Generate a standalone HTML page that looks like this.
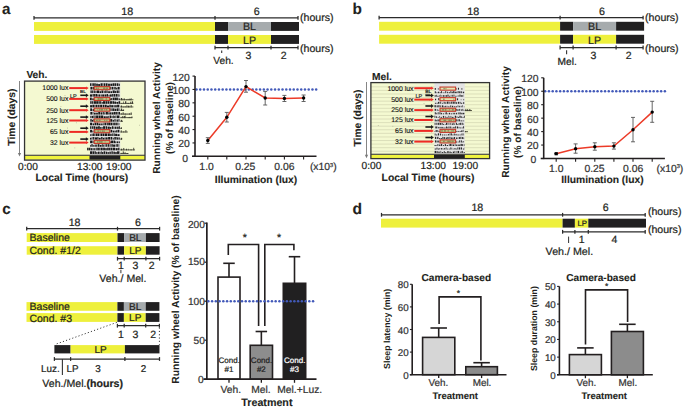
<!DOCTYPE html>
<html><head><meta charset="utf-8"><style>
html,body{margin:0;padding:0;background:#fff;}
svg{display:block;font-family:"Liberation Sans", sans-serif;text-rendering:geometricPrecision;}
</style></head><body>
<svg width="685" height="409" viewBox="0 0 685 409">
<rect width="685" height="409" fill="#fff"/>
<text x="2.00" y="13.50" font-size="15.2" font-weight="bold" text-anchor="start" fill="#231f20"  stroke="#231f20" stroke-width="0.11">a</text>
<text x="352.60" y="13.80" font-size="15.4" font-weight="bold" text-anchor="start" fill="#231f20"  stroke="#231f20" stroke-width="0.11">b</text>
<text x="2.20" y="213.70" font-size="15.2" font-weight="bold" text-anchor="start" fill="#231f20"  stroke="#231f20" stroke-width="0.11">c</text>
<text x="352.50" y="214.10" font-size="15.6" font-weight="bold" text-anchor="start" fill="#231f20"  stroke="#231f20" stroke-width="0.11">d</text>
<line x1="34.00" y1="17.90" x2="298.00" y2="17.90" stroke="#2b2b2b" stroke-width="1.25" />
<line x1="34.00" y1="16.00" x2="34.00" y2="19.80" stroke="#2b2b2b" stroke-width="1.25" />
<line x1="215.00" y1="16.00" x2="215.00" y2="19.80" stroke="#2b2b2b" stroke-width="1.25" />
<line x1="298.00" y1="16.00" x2="298.00" y2="19.80" stroke="#2b2b2b" stroke-width="1.25" />
<text x="127.20" y="15.13" font-size="10.7" font-weight="normal" text-anchor="middle" fill="#231f20"  stroke="#231f20" stroke-width="0.22">18</text>
<text x="256.80" y="15.13" font-size="10.7" font-weight="normal" text-anchor="middle" fill="#231f20"  stroke="#231f20" stroke-width="0.22">6</text>
<text x="300.00" y="20.69" font-size="10.6" font-weight="normal" text-anchor="start" fill="#231f20"  stroke="#231f20" stroke-width="0.22">(hours)</text>
<rect x="34.00" y="22.00" width="181.00" height="8.90" fill="#eef03c" />
<rect x="215.00" y="22.00" width="13.00" height="8.90" fill="#212021" />
<rect x="228.00" y="22.00" width="43.00" height="8.90" fill="#a6abad" />
<rect x="271.00" y="22.00" width="28.00" height="8.90" fill="#212021" />
<text x="249.50" y="30.39" font-size="10.6" font-weight="normal" text-anchor="middle" fill="#231f20"  stroke="#231f20" stroke-width="0.22">BL</text>
<rect x="34.00" y="35.00" width="181.00" height="8.90" fill="#eef03c" />
<rect x="215.00" y="35.00" width="13.00" height="8.90" fill="#212021" />
<rect x="228.00" y="35.00" width="43.00" height="8.90" fill="#eef03c" />
<rect x="271.00" y="35.00" width="28.00" height="8.90" fill="#212021" />
<text x="249.50" y="44.39" font-size="10.6" font-weight="normal" text-anchor="middle" fill="#231f20"  stroke="#231f20" stroke-width="0.22">LP</text>
<line x1="215.00" y1="47.70" x2="298.00" y2="47.70" stroke="#2b2b2b" stroke-width="1.25" />
<line x1="215.00" y1="45.80" x2="215.00" y2="49.60" stroke="#2b2b2b" stroke-width="1.25" />
<line x1="228.00" y1="45.80" x2="228.00" y2="49.60" stroke="#2b2b2b" stroke-width="1.25" />
<line x1="271.00" y1="45.80" x2="271.00" y2="49.60" stroke="#2b2b2b" stroke-width="1.25" />
<line x1="298.00" y1="45.80" x2="298.00" y2="49.60" stroke="#2b2b2b" stroke-width="1.25" />
<text x="300.00" y="52.39" font-size="10.6" font-weight="normal" text-anchor="start" fill="#231f20"  stroke="#231f20" stroke-width="0.22">(hours)</text>
<text x="248.30" y="58.86" font-size="10.5" font-weight="normal" text-anchor="middle" fill="#231f20"  stroke="#231f20" stroke-width="0.22">3</text>
<text x="283.60" y="58.86" font-size="10.5" font-weight="normal" text-anchor="middle" fill="#231f20"  stroke="#231f20" stroke-width="0.22">2</text>
<line x1="221.70" y1="50.40" x2="221.70" y2="53.00" stroke="#333" stroke-width="1.1" />
<text x="223.50" y="64.45" font-size="10.2" font-weight="normal" text-anchor="middle" fill="#231f20"  stroke="#231f20" stroke-width="0.22">Veh.</text>
<line x1="379.10" y1="17.70" x2="643.10" y2="17.70" stroke="#2b2b2b" stroke-width="1.25" />
<line x1="379.10" y1="15.80" x2="379.10" y2="19.60" stroke="#2b2b2b" stroke-width="1.25" />
<line x1="560.10" y1="15.80" x2="560.10" y2="19.60" stroke="#2b2b2b" stroke-width="1.25" />
<line x1="643.10" y1="15.80" x2="643.10" y2="19.60" stroke="#2b2b2b" stroke-width="1.25" />
<text x="473.30" y="14.93" font-size="10.7" font-weight="normal" text-anchor="middle" fill="#231f20"  stroke="#231f20" stroke-width="0.22">18</text>
<text x="601.90" y="14.93" font-size="10.7" font-weight="normal" text-anchor="middle" fill="#231f20"  stroke="#231f20" stroke-width="0.22">6</text>
<text x="645.10" y="21.19" font-size="10.6" font-weight="normal" text-anchor="start" fill="#231f20"  stroke="#231f20" stroke-width="0.22">(hours)</text>
<rect x="379.10" y="21.80" width="181.00" height="8.90" fill="#eef03c" />
<rect x="560.10" y="21.80" width="13.00" height="8.90" fill="#212021" />
<rect x="573.10" y="21.80" width="43.00" height="8.90" fill="#a6abad" />
<rect x="616.10" y="21.80" width="28.00" height="8.90" fill="#212021" />
<text x="594.60" y="30.19" font-size="10.6" font-weight="normal" text-anchor="middle" fill="#231f20"  stroke="#231f20" stroke-width="0.22">BL</text>
<rect x="379.10" y="34.80" width="181.00" height="8.90" fill="#eef03c" />
<rect x="560.10" y="34.80" width="13.00" height="8.90" fill="#212021" />
<rect x="573.10" y="34.80" width="43.00" height="8.90" fill="#eef03c" />
<rect x="616.10" y="34.80" width="28.00" height="8.90" fill="#212021" />
<text x="594.60" y="44.19" font-size="10.6" font-weight="normal" text-anchor="middle" fill="#231f20"  stroke="#231f20" stroke-width="0.22">LP</text>
<line x1="560.10" y1="47.50" x2="643.10" y2="47.50" stroke="#2b2b2b" stroke-width="1.25" />
<line x1="560.10" y1="45.60" x2="560.10" y2="49.40" stroke="#2b2b2b" stroke-width="1.25" />
<line x1="573.10" y1="45.60" x2="573.10" y2="49.40" stroke="#2b2b2b" stroke-width="1.25" />
<line x1="616.10" y1="45.60" x2="616.10" y2="49.40" stroke="#2b2b2b" stroke-width="1.25" />
<line x1="643.10" y1="45.60" x2="643.10" y2="49.40" stroke="#2b2b2b" stroke-width="1.25" />
<text x="645.10" y="52.19" font-size="10.6" font-weight="normal" text-anchor="start" fill="#231f20"  stroke="#231f20" stroke-width="0.22">(hours)</text>
<text x="593.40" y="58.66" font-size="10.5" font-weight="normal" text-anchor="middle" fill="#231f20"  stroke="#231f20" stroke-width="0.22">3</text>
<text x="628.70" y="58.66" font-size="10.5" font-weight="normal" text-anchor="middle" fill="#231f20"  stroke="#231f20" stroke-width="0.22">2</text>
<line x1="566.60" y1="50.20" x2="566.60" y2="54.20" stroke="#333" stroke-width="1.1" />
<text x="567.20" y="64.85" font-size="10.2" font-weight="normal" text-anchor="middle" fill="#231f20"  stroke="#231f20" stroke-width="0.22">Mel.</text>
<rect x="24.55" y="81.10" width="120.45" height="79.00" fill="#f4f9d1" />
<rect x="89.90" y="81.10" width="30.40" height="74.70" fill="#e2e2e2" />
<rect x="90.04" y="83.30" width="1.25" height="2.60" fill="#161616" />
<rect x="91.76" y="83.30" width="0.80" height="2.60" fill="#161616" />
<rect x="92.81" y="83.30" width="1.09" height="2.60" fill="#161616" />
<rect x="94.23" y="83.30" width="1.51" height="2.60" fill="#161616" />
<rect x="96.19" y="83.69" width="1.66" height="2.21" fill="#161616" />
<rect x="98.15" y="84.08" width="2.00" height="1.82" fill="#161616" />
<rect x="100.58" y="83.30" width="1.71" height="2.60" fill="#161616" />
<rect x="102.56" y="83.30" width="0.76" height="2.60" fill="#161616" />
<rect x="103.85" y="83.30" width="1.41" height="2.60" fill="#161616" />
<rect x="105.76" y="83.30" width="1.77" height="2.60" fill="#161616" />
<rect x="108.10" y="83.69" width="1.79" height="2.21" fill="#161616" />
<rect x="110.35" y="83.69" width="2.02" height="2.21" fill="#161616" />
<rect x="112.65" y="83.30" width="1.44" height="2.60" fill="#161616" />
<rect x="114.43" y="83.30" width="1.87" height="2.60" fill="#161616" />
<rect x="116.85" y="83.30" width="1.46" height="2.60" fill="#161616" />
<rect x="118.70" y="83.69" width="1.06" height="2.21" fill="#161616" />
<rect x="90.44" y="86.88" width="2.09" height="2.60" fill="#161616" />
<rect x="93.09" y="86.88" width="1.71" height="2.60" fill="#161616" />
<rect x="95.10" y="86.88" width="2.15" height="2.60" fill="#161616" />
<rect x="97.81" y="86.88" width="0.86" height="2.60" fill="#161616" />
<rect x="99.15" y="86.88" width="1.10" height="2.60" fill="#161616" />
<rect x="100.54" y="87.66" width="1.98" height="1.82" fill="#161616" />
<rect x="103.12" y="87.27" width="1.22" height="2.21" fill="#161616" />
<rect x="104.61" y="86.88" width="0.73" height="2.60" fill="#161616" />
<rect x="105.74" y="86.88" width="2.01" height="2.60" fill="#161616" />
<rect x="108.01" y="86.88" width="1.84" height="2.60" fill="#161616" />
<rect x="110.24" y="86.88" width="1.20" height="2.60" fill="#161616" />
<rect x="111.99" y="86.88" width="1.46" height="2.60" fill="#161616" />
<rect x="114.05" y="86.88" width="0.71" height="2.60" fill="#161616" />
<rect x="115.05" y="86.88" width="0.75" height="2.60" fill="#161616" />
<rect x="116.12" y="87.66" width="1.14" height="1.82" fill="#161616" />
<rect x="117.60" y="86.88" width="2.02" height="2.60" fill="#161616" />
<rect x="90.48" y="90.46" width="1.27" height="2.60" fill="#161616" />
<rect x="92.15" y="90.46" width="1.28" height="2.60" fill="#161616" />
<rect x="93.99" y="90.46" width="0.85" height="2.60" fill="#161616" />
<rect x="95.43" y="90.85" width="1.11" height="2.21" fill="#161616" />
<rect x="97.01" y="90.46" width="2.10" height="2.60" fill="#161616" />
<rect x="99.52" y="91.24" width="1.48" height="1.82" fill="#161616" />
<rect x="101.44" y="90.46" width="1.88" height="2.60" fill="#161616" />
<rect x="103.92" y="90.85" width="0.73" height="2.21" fill="#161616" />
<rect x="105.11" y="90.46" width="0.79" height="2.60" fill="#161616" />
<rect x="106.37" y="90.46" width="1.23" height="2.60" fill="#161616" />
<rect x="108.17" y="91.24" width="1.76" height="1.82" fill="#161616" />
<rect x="110.44" y="91.24" width="1.58" height="1.82" fill="#161616" />
<rect x="112.61" y="90.46" width="2.14" height="2.60" fill="#161616" />
<rect x="115.09" y="90.85" width="1.15" height="2.21" fill="#161616" />
<rect x="116.70" y="90.46" width="1.25" height="2.60" fill="#161616" />
<rect x="118.31" y="90.46" width="1.10" height="2.60" fill="#161616" />
<rect x="89.96" y="94.43" width="2.16" height="2.21" fill="#161616" />
<rect x="92.61" y="94.04" width="1.17" height="2.60" fill="#161616" />
<rect x="94.10" y="94.04" width="1.06" height="2.60" fill="#161616" />
<rect x="95.48" y="94.04" width="1.67" height="2.60" fill="#161616" />
<rect x="97.43" y="94.43" width="1.18" height="2.21" fill="#161616" />
<rect x="98.98" y="94.43" width="1.36" height="2.21" fill="#161616" />
<rect x="100.89" y="94.43" width="0.82" height="2.21" fill="#161616" />
<rect x="102.22" y="94.43" width="2.03" height="2.21" fill="#161616" />
<rect x="104.66" y="94.43" width="1.88" height="2.21" fill="#161616" />
<rect x="106.80" y="94.04" width="1.17" height="2.60" fill="#161616" />
<rect x="108.51" y="94.82" width="0.98" height="1.82" fill="#161616" />
<rect x="109.84" y="94.43" width="1.91" height="2.21" fill="#161616" />
<rect x="112.12" y="94.04" width="1.33" height="2.60" fill="#161616" />
<rect x="113.88" y="94.04" width="1.40" height="2.60" fill="#161616" />
<rect x="115.75" y="94.04" width="1.33" height="2.60" fill="#161616" />
<rect x="117.47" y="94.04" width="0.93" height="2.60" fill="#161616" />
<rect x="118.66" y="94.43" width="0.83" height="2.21" fill="#161616" />
<rect x="89.92" y="97.62" width="1.83" height="2.60" fill="#161616" />
<rect x="92.26" y="98.40" width="1.52" height="1.82" fill="#161616" />
<rect x="94.34" y="98.40" width="1.99" height="1.82" fill="#161616" />
<rect x="96.92" y="97.62" width="1.92" height="2.60" fill="#161616" />
<rect x="99.10" y="97.62" width="2.09" height="2.60" fill="#161616" />
<rect x="101.75" y="98.40" width="1.57" height="1.82" fill="#161616" />
<rect x="103.57" y="98.40" width="0.96" height="1.82" fill="#161616" />
<rect x="104.88" y="97.62" width="1.49" height="2.60" fill="#161616" />
<rect x="106.76" y="97.62" width="0.87" height="2.60" fill="#161616" />
<rect x="107.93" y="97.62" width="1.42" height="2.60" fill="#161616" />
<rect x="109.86" y="98.40" width="1.03" height="1.82" fill="#161616" />
<rect x="111.19" y="98.01" width="0.96" height="2.21" fill="#161616" />
<rect x="112.67" y="97.62" width="1.94" height="2.60" fill="#161616" />
<rect x="114.86" y="97.62" width="1.99" height="2.60" fill="#161616" />
<rect x="117.12" y="97.62" width="1.07" height="2.60" fill="#161616" />
<rect x="118.66" y="98.40" width="1.18" height="1.82" fill="#161616" />
<rect x="120.30" y="99.32" width="13.10" height="0.90" fill="#4a4a38" />
<rect x="120.80" y="98.02" width="1.27" height="2.20" fill="#3a3a30" />
<rect x="122.63" y="98.55" width="0.54" height="1.67" fill="#3a3a30" />
<rect x="123.72" y="98.49" width="1.14" height="1.73" fill="#3a3a30" />
<rect x="126.00" y="99.29" width="0.64" height="0.93" fill="#3a3a30" />
<rect x="127.64" y="98.87" width="0.85" height="1.35" fill="#3a3a30" />
<rect x="129.34" y="98.65" width="1.39" height="1.57" fill="#3a3a30" />
<rect x="131.39" y="98.12" width="0.50" height="2.10" fill="#3a3a30" />
<rect x="90.24" y="101.20" width="1.39" height="2.60" fill="#161616" />
<rect x="92.11" y="101.20" width="1.27" height="2.60" fill="#161616" />
<rect x="93.91" y="101.20" width="2.03" height="2.60" fill="#161616" />
<rect x="96.21" y="101.20" width="1.84" height="2.60" fill="#161616" />
<rect x="98.41" y="101.20" width="1.39" height="2.60" fill="#161616" />
<rect x="100.14" y="101.20" width="1.11" height="2.60" fill="#161616" />
<rect x="101.70" y="101.98" width="1.04" height="1.82" fill="#161616" />
<rect x="103.03" y="101.20" width="2.10" height="2.60" fill="#161616" />
<rect x="105.51" y="101.20" width="1.89" height="2.60" fill="#161616" />
<rect x="107.74" y="101.20" width="1.74" height="2.60" fill="#161616" />
<rect x="110.06" y="101.20" width="1.89" height="2.60" fill="#161616" />
<rect x="112.43" y="101.20" width="1.55" height="2.60" fill="#161616" />
<rect x="114.26" y="101.59" width="1.77" height="2.21" fill="#161616" />
<rect x="116.45" y="101.98" width="1.86" height="1.82" fill="#161616" />
<rect x="118.58" y="101.20" width="1.55" height="2.60" fill="#161616" />
<rect x="120.30" y="102.90" width="13.10" height="0.90" fill="#4a4a38" />
<rect x="120.80" y="102.96" width="0.66" height="0.84" fill="#3a3a30" />
<rect x="123.06" y="101.48" width="0.61" height="2.32" fill="#3a3a30" />
<rect x="125.04" y="101.29" width="1.25" height="2.51" fill="#3a3a30" />
<rect x="127.55" y="102.93" width="1.22" height="0.87" fill="#3a3a30" />
<rect x="130.26" y="101.71" width="0.96" height="2.09" fill="#3a3a30" />
<rect x="131.86" y="101.32" width="1.17" height="2.48" fill="#3a3a30" />
<rect x="90.09" y="105.17" width="1.94" height="2.21" fill="#161616" />
<rect x="92.37" y="104.78" width="1.67" height="2.60" fill="#161616" />
<rect x="94.45" y="104.78" width="1.08" height="2.60" fill="#161616" />
<rect x="95.99" y="104.78" width="1.53" height="2.60" fill="#161616" />
<rect x="98.11" y="104.78" width="1.45" height="2.60" fill="#161616" />
<rect x="100.15" y="104.78" width="1.97" height="2.60" fill="#161616" />
<rect x="102.71" y="104.78" width="1.74" height="2.60" fill="#161616" />
<rect x="104.96" y="104.78" width="1.73" height="2.60" fill="#161616" />
<rect x="106.99" y="105.56" width="2.05" height="1.82" fill="#161616" />
<rect x="109.34" y="104.78" width="1.45" height="2.60" fill="#161616" />
<rect x="111.20" y="105.17" width="2.13" height="2.21" fill="#161616" />
<rect x="113.79" y="105.17" width="0.90" height="2.21" fill="#161616" />
<rect x="115.20" y="105.17" width="1.58" height="2.21" fill="#161616" />
<rect x="117.14" y="104.78" width="1.98" height="2.60" fill="#161616" />
<rect x="119.56" y="104.78" width="0.18" height="2.60" fill="#161616" />
<rect x="120.30" y="106.48" width="13.10" height="0.90" fill="#4a4a38" />
<rect x="120.80" y="105.53" width="1.27" height="1.85" fill="#3a3a30" />
<rect x="122.92" y="106.54" width="0.70" height="0.84" fill="#3a3a30" />
<rect x="124.73" y="106.27" width="0.84" height="1.11" fill="#3a3a30" />
<rect x="126.55" y="105.19" width="0.79" height="2.19" fill="#3a3a30" />
<rect x="128.02" y="105.72" width="1.39" height="1.66" fill="#3a3a30" />
<rect x="130.70" y="105.08" width="0.92" height="2.30" fill="#3a3a30" />
<rect x="90.23" y="108.36" width="1.78" height="2.60" fill="#161616" />
<rect x="92.57" y="109.14" width="1.87" height="1.82" fill="#161616" />
<rect x="95.00" y="108.75" width="1.40" height="2.21" fill="#161616" />
<rect x="96.73" y="109.14" width="1.67" height="1.82" fill="#161616" />
<rect x="98.92" y="108.75" width="2.14" height="2.21" fill="#161616" />
<rect x="101.61" y="108.75" width="2.04" height="2.21" fill="#161616" />
<rect x="104.17" y="109.14" width="0.98" height="1.82" fill="#161616" />
<rect x="105.65" y="109.14" width="2.05" height="1.82" fill="#161616" />
<rect x="108.03" y="109.14" width="1.17" height="1.82" fill="#161616" />
<rect x="109.60" y="108.36" width="0.88" height="2.60" fill="#161616" />
<rect x="110.82" y="108.36" width="0.75" height="2.60" fill="#161616" />
<rect x="111.98" y="108.36" width="0.71" height="2.60" fill="#161616" />
<rect x="113.06" y="108.36" width="1.27" height="2.60" fill="#161616" />
<rect x="114.61" y="108.75" width="1.81" height="2.21" fill="#161616" />
<rect x="116.84" y="108.36" width="1.52" height="2.60" fill="#161616" />
<rect x="118.65" y="108.36" width="0.81" height="2.60" fill="#161616" />
<rect x="120.30" y="110.06" width="3.70" height="0.90" fill="#4a4a38" />
<rect x="120.80" y="108.52" width="1.30" height="2.44" fill="#3a3a30" />
<rect x="122.72" y="109.49" width="1.35" height="1.47" fill="#3a3a30" />
<rect x="90.35" y="111.94" width="1.71" height="2.60" fill="#161616" />
<rect x="92.55" y="111.94" width="0.86" height="2.60" fill="#161616" />
<rect x="93.99" y="112.72" width="1.71" height="1.82" fill="#161616" />
<rect x="96.14" y="112.72" width="1.70" height="1.82" fill="#161616" />
<rect x="98.26" y="111.94" width="1.78" height="2.60" fill="#161616" />
<rect x="100.53" y="112.33" width="1.81" height="2.21" fill="#161616" />
<rect x="102.82" y="111.94" width="0.97" height="2.60" fill="#161616" />
<rect x="104.35" y="112.33" width="0.88" height="2.21" fill="#161616" />
<rect x="105.81" y="111.94" width="2.08" height="2.60" fill="#161616" />
<rect x="108.37" y="112.33" width="1.33" height="2.21" fill="#161616" />
<rect x="110.05" y="112.33" width="1.39" height="2.21" fill="#161616" />
<rect x="111.80" y="112.33" width="1.76" height="2.21" fill="#161616" />
<rect x="113.84" y="111.94" width="1.83" height="2.60" fill="#161616" />
<rect x="116.11" y="111.94" width="1.24" height="2.60" fill="#161616" />
<rect x="117.70" y="111.94" width="0.78" height="2.60" fill="#161616" />
<rect x="118.77" y="111.94" width="1.23" height="2.60" fill="#161616" />
<rect x="120.30" y="113.64" width="11.70" height="0.90" fill="#4a4a38" />
<rect x="120.80" y="113.14" width="0.82" height="1.40" fill="#3a3a30" />
<rect x="122.64" y="112.35" width="0.99" height="2.19" fill="#3a3a30" />
<rect x="124.59" y="113.54" width="1.26" height="1.00" fill="#3a3a30" />
<rect x="126.70" y="113.54" width="0.59" height="1.00" fill="#3a3a30" />
<rect x="128.81" y="113.41" width="1.15" height="1.13" fill="#3a3a30" />
<rect x="130.71" y="112.40" width="0.87" height="2.14" fill="#3a3a30" />
<rect x="90.35" y="115.91" width="0.92" height="2.21" fill="#161616" />
<rect x="91.66" y="115.91" width="1.52" height="2.21" fill="#161616" />
<rect x="93.49" y="115.52" width="1.00" height="2.60" fill="#161616" />
<rect x="94.83" y="115.52" width="0.75" height="2.60" fill="#161616" />
<rect x="96.10" y="115.52" width="2.12" height="2.60" fill="#161616" />
<rect x="98.61" y="115.52" width="2.06" height="2.60" fill="#161616" />
<rect x="101.03" y="115.52" width="2.17" height="2.60" fill="#161616" />
<rect x="103.68" y="116.30" width="2.04" height="1.82" fill="#161616" />
<rect x="106.21" y="116.30" width="1.60" height="1.82" fill="#161616" />
<rect x="108.32" y="115.91" width="0.86" height="2.21" fill="#161616" />
<rect x="109.69" y="115.52" width="1.44" height="2.60" fill="#161616" />
<rect x="111.56" y="115.91" width="1.00" height="2.21" fill="#161616" />
<rect x="113.09" y="115.52" width="0.76" height="2.60" fill="#161616" />
<rect x="114.27" y="115.91" width="0.87" height="2.21" fill="#161616" />
<rect x="115.48" y="115.52" width="0.90" height="2.60" fill="#161616" />
<rect x="116.91" y="115.52" width="2.09" height="2.60" fill="#161616" />
<rect x="119.26" y="115.52" width="0.45" height="2.60" fill="#161616" />
<rect x="120.30" y="117.22" width="11.70" height="0.90" fill="#4a4a38" />
<rect x="120.80" y="116.71" width="0.52" height="1.41" fill="#3a3a30" />
<rect x="122.24" y="116.07" width="0.81" height="2.05" fill="#3a3a30" />
<rect x="123.66" y="115.92" width="1.26" height="2.20" fill="#3a3a30" />
<rect x="125.46" y="115.53" width="0.57" height="2.59" fill="#3a3a30" />
<rect x="127.83" y="117.21" width="0.68" height="0.91" fill="#3a3a30" />
<rect x="129.27" y="116.92" width="1.13" height="1.20" fill="#3a3a30" />
<rect x="131.31" y="116.58" width="1.21" height="1.54" fill="#3a3a30" />
<rect x="90.32" y="119.10" width="1.41" height="2.60" fill="#161616" />
<rect x="92.01" y="119.88" width="1.01" height="1.82" fill="#161616" />
<rect x="93.44" y="119.10" width="1.40" height="2.60" fill="#161616" />
<rect x="95.35" y="119.88" width="1.36" height="1.82" fill="#161616" />
<rect x="97.12" y="119.10" width="1.78" height="2.60" fill="#161616" />
<rect x="99.28" y="119.10" width="1.37" height="2.60" fill="#161616" />
<rect x="101.03" y="119.49" width="1.04" height="2.21" fill="#161616" />
<rect x="102.31" y="119.10" width="1.09" height="2.60" fill="#161616" />
<rect x="103.78" y="119.88" width="1.50" height="1.82" fill="#161616" />
<rect x="105.59" y="119.49" width="0.96" height="2.21" fill="#161616" />
<rect x="106.93" y="119.10" width="1.66" height="2.60" fill="#161616" />
<rect x="108.89" y="119.88" width="0.95" height="1.82" fill="#161616" />
<rect x="110.26" y="119.10" width="1.96" height="2.60" fill="#161616" />
<rect x="112.61" y="119.88" width="1.31" height="1.82" fill="#161616" />
<rect x="114.42" y="119.10" width="1.06" height="2.60" fill="#161616" />
<rect x="115.75" y="119.49" width="0.74" height="2.21" fill="#161616" />
<rect x="117.07" y="119.49" width="1.06" height="2.21" fill="#161616" />
<rect x="118.52" y="119.10" width="0.95" height="2.60" fill="#161616" />
<rect x="120.30" y="120.80" width="2.70" height="0.90" fill="#4a4a38" />
<rect x="120.80" y="119.83" width="1.32" height="1.87" fill="#3a3a30" />
<rect x="90.07" y="122.68" width="2.11" height="2.60" fill="#161616" />
<rect x="92.71" y="123.46" width="1.43" height="1.82" fill="#161616" />
<rect x="94.59" y="122.68" width="1.92" height="2.60" fill="#161616" />
<rect x="96.99" y="122.68" width="1.18" height="2.60" fill="#161616" />
<rect x="98.43" y="123.46" width="2.15" height="1.82" fill="#161616" />
<rect x="101.04" y="123.46" width="0.86" height="1.82" fill="#161616" />
<rect x="102.39" y="123.46" width="0.96" height="1.82" fill="#161616" />
<rect x="103.61" y="122.68" width="0.98" height="2.60" fill="#161616" />
<rect x="105.02" y="122.68" width="1.00" height="2.60" fill="#161616" />
<rect x="106.61" y="122.68" width="1.21" height="2.60" fill="#161616" />
<rect x="108.24" y="122.68" width="2.11" height="2.60" fill="#161616" />
<rect x="110.61" y="122.68" width="1.83" height="2.60" fill="#161616" />
<rect x="112.91" y="122.68" width="0.83" height="2.60" fill="#161616" />
<rect x="114.09" y="122.68" width="0.87" height="2.60" fill="#161616" />
<rect x="115.35" y="122.68" width="1.50" height="2.60" fill="#161616" />
<rect x="117.38" y="122.68" width="0.96" height="2.60" fill="#161616" />
<rect x="118.85" y="123.07" width="0.47" height="2.21" fill="#161616" />
<rect x="90.12" y="126.26" width="1.04" height="2.60" fill="#161616" />
<rect x="91.68" y="126.26" width="1.22" height="2.60" fill="#161616" />
<rect x="93.44" y="126.26" width="1.78" height="2.60" fill="#161616" />
<rect x="95.68" y="126.65" width="2.12" height="2.21" fill="#161616" />
<rect x="98.07" y="126.26" width="1.77" height="2.60" fill="#161616" />
<rect x="100.10" y="127.04" width="0.84" height="1.82" fill="#161616" />
<rect x="101.43" y="127.04" width="1.18" height="1.82" fill="#161616" />
<rect x="103.07" y="126.26" width="2.02" height="2.60" fill="#161616" />
<rect x="105.64" y="126.26" width="1.40" height="2.60" fill="#161616" />
<rect x="107.59" y="126.65" width="2.20" height="2.21" fill="#161616" />
<rect x="110.04" y="127.04" width="1.30" height="1.82" fill="#161616" />
<rect x="111.92" y="126.26" width="1.21" height="2.60" fill="#161616" />
<rect x="113.49" y="126.65" width="0.82" height="2.21" fill="#161616" />
<rect x="114.79" y="126.65" width="1.73" height="2.21" fill="#161616" />
<rect x="117.11" y="126.65" width="1.58" height="2.21" fill="#161616" />
<rect x="118.94" y="126.26" width="0.94" height="2.60" fill="#161616" />
<rect x="120.30" y="127.96" width="1.70" height="0.90" fill="#4a4a38" />
<rect x="120.80" y="127.15" width="0.96" height="1.71" fill="#3a3a30" />
<rect x="90.09" y="129.84" width="1.87" height="2.60" fill="#161616" />
<rect x="92.38" y="130.62" width="0.82" height="1.82" fill="#161616" />
<rect x="93.74" y="130.62" width="1.60" height="1.82" fill="#161616" />
<rect x="95.88" y="130.62" width="1.00" height="1.82" fill="#161616" />
<rect x="97.45" y="129.84" width="0.86" height="2.60" fill="#161616" />
<rect x="98.70" y="129.84" width="0.86" height="2.60" fill="#161616" />
<rect x="99.98" y="130.62" width="1.30" height="1.82" fill="#161616" />
<rect x="101.77" y="129.84" width="1.14" height="2.60" fill="#161616" />
<rect x="103.49" y="129.84" width="1.92" height="2.60" fill="#161616" />
<rect x="105.73" y="130.62" width="0.71" height="1.82" fill="#161616" />
<rect x="106.80" y="130.62" width="1.21" height="1.82" fill="#161616" />
<rect x="108.33" y="129.84" width="2.09" height="2.60" fill="#161616" />
<rect x="110.90" y="129.84" width="1.33" height="2.60" fill="#161616" />
<rect x="112.71" y="130.62" width="1.48" height="1.82" fill="#161616" />
<rect x="114.53" y="130.62" width="1.20" height="1.82" fill="#161616" />
<rect x="116.13" y="130.23" width="1.08" height="2.21" fill="#161616" />
<rect x="117.57" y="129.84" width="1.79" height="2.60" fill="#161616" />
<rect x="120.30" y="131.54" width="7.50" height="0.90" fill="#4a4a38" />
<rect x="120.80" y="130.36" width="0.92" height="2.08" fill="#3a3a30" />
<rect x="123.33" y="131.30" width="0.83" height="1.14" fill="#3a3a30" />
<rect x="125.47" y="130.03" width="0.87" height="2.41" fill="#3a3a30" />
<rect x="90.18" y="134.20" width="0.75" height="1.82" fill="#161616" />
<rect x="91.52" y="133.81" width="0.98" height="2.21" fill="#161616" />
<rect x="92.78" y="133.42" width="1.14" height="2.60" fill="#161616" />
<rect x="94.35" y="133.42" width="0.76" height="2.60" fill="#161616" />
<rect x="95.62" y="133.42" width="1.44" height="2.60" fill="#161616" />
<rect x="97.33" y="133.42" width="1.81" height="2.60" fill="#161616" />
<rect x="99.65" y="133.42" width="0.91" height="2.60" fill="#161616" />
<rect x="100.97" y="133.42" width="1.37" height="2.60" fill="#161616" />
<rect x="102.66" y="133.42" width="1.84" height="2.60" fill="#161616" />
<rect x="105.00" y="133.42" width="2.17" height="2.60" fill="#161616" />
<rect x="107.72" y="133.42" width="2.11" height="2.60" fill="#161616" />
<rect x="110.24" y="133.81" width="1.41" height="2.21" fill="#161616" />
<rect x="112.25" y="133.42" width="1.24" height="2.60" fill="#161616" />
<rect x="114.04" y="133.42" width="0.74" height="2.60" fill="#161616" />
<rect x="115.16" y="133.81" width="1.91" height="2.21" fill="#161616" />
<rect x="117.43" y="134.20" width="2.10" height="1.82" fill="#161616" />
<rect x="89.98" y="137.78" width="1.50" height="1.82" fill="#161616" />
<rect x="91.79" y="137.00" width="0.70" height="2.60" fill="#161616" />
<rect x="93.09" y="137.00" width="1.23" height="2.60" fill="#161616" />
<rect x="94.91" y="137.39" width="2.17" height="2.21" fill="#161616" />
<rect x="97.34" y="137.00" width="1.06" height="2.60" fill="#161616" />
<rect x="98.74" y="137.78" width="1.95" height="1.82" fill="#161616" />
<rect x="101.16" y="137.00" width="1.38" height="2.60" fill="#161616" />
<rect x="102.88" y="137.78" width="1.33" height="1.82" fill="#161616" />
<rect x="104.54" y="137.39" width="0.74" height="2.21" fill="#161616" />
<rect x="105.55" y="137.39" width="2.07" height="2.21" fill="#161616" />
<rect x="108.15" y="137.00" width="2.13" height="2.60" fill="#161616" />
<rect x="110.79" y="137.00" width="1.46" height="2.60" fill="#161616" />
<rect x="112.80" y="137.78" width="0.90" height="1.82" fill="#161616" />
<rect x="113.95" y="137.00" width="0.73" height="2.60" fill="#161616" />
<rect x="115.15" y="137.00" width="1.40" height="2.60" fill="#161616" />
<rect x="117.04" y="137.39" width="1.47" height="2.21" fill="#161616" />
<rect x="118.89" y="137.39" width="0.88" height="2.21" fill="#161616" />
<rect x="120.30" y="138.70" width="1.70" height="0.90" fill="#4a4a38" />
<rect x="120.80" y="137.82" width="1.39" height="1.78" fill="#3a3a30" />
<rect x="90.11" y="140.58" width="1.90" height="2.60" fill="#161616" />
<rect x="92.42" y="140.58" width="0.93" height="2.60" fill="#161616" />
<rect x="93.72" y="140.97" width="0.76" height="2.21" fill="#161616" />
<rect x="94.89" y="140.58" width="1.94" height="2.60" fill="#161616" />
<rect x="97.41" y="140.58" width="1.11" height="2.60" fill="#161616" />
<rect x="98.88" y="140.58" width="1.52" height="2.60" fill="#161616" />
<rect x="100.83" y="140.58" width="1.88" height="2.60" fill="#161616" />
<rect x="103.22" y="140.58" width="0.85" height="2.60" fill="#161616" />
<rect x="104.56" y="140.58" width="0.75" height="2.60" fill="#161616" />
<rect x="105.73" y="140.97" width="0.99" height="2.21" fill="#161616" />
<rect x="107.29" y="140.58" width="1.68" height="2.60" fill="#161616" />
<rect x="109.55" y="141.36" width="1.17" height="1.82" fill="#161616" />
<rect x="111.07" y="140.58" width="2.12" height="2.60" fill="#161616" />
<rect x="113.55" y="140.58" width="1.53" height="2.60" fill="#161616" />
<rect x="115.34" y="141.36" width="1.08" height="1.82" fill="#161616" />
<rect x="117.01" y="141.36" width="1.44" height="1.82" fill="#161616" />
<rect x="119.04" y="141.36" width="0.80" height="1.82" fill="#161616" />
<rect x="90.28" y="144.94" width="0.71" height="1.82" fill="#161616" />
<rect x="91.34" y="144.16" width="1.35" height="2.60" fill="#161616" />
<rect x="93.28" y="144.94" width="1.10" height="1.82" fill="#161616" />
<rect x="94.82" y="144.55" width="0.96" height="2.21" fill="#161616" />
<rect x="96.20" y="144.55" width="0.92" height="2.21" fill="#161616" />
<rect x="97.69" y="144.16" width="1.74" height="2.60" fill="#161616" />
<rect x="99.83" y="144.94" width="1.67" height="1.82" fill="#161616" />
<rect x="101.80" y="144.16" width="0.97" height="2.60" fill="#161616" />
<rect x="103.24" y="144.55" width="0.98" height="2.21" fill="#161616" />
<rect x="104.77" y="144.16" width="0.77" height="2.60" fill="#161616" />
<rect x="106.13" y="144.16" width="1.02" height="2.60" fill="#161616" />
<rect x="107.67" y="144.16" width="1.28" height="2.60" fill="#161616" />
<rect x="109.55" y="144.16" width="0.86" height="2.60" fill="#161616" />
<rect x="110.70" y="144.16" width="0.89" height="2.60" fill="#161616" />
<rect x="111.96" y="144.16" width="0.82" height="2.60" fill="#161616" />
<rect x="113.09" y="144.55" width="2.20" height="2.21" fill="#161616" />
<rect x="115.88" y="144.16" width="0.80" height="2.60" fill="#161616" />
<rect x="117.12" y="144.16" width="0.86" height="2.60" fill="#161616" />
<rect x="118.52" y="144.16" width="0.73" height="2.60" fill="#161616" />
<rect x="87.14" y="147.74" width="1.51" height="2.60" fill="#161616" />
<rect x="89.05" y="147.74" width="1.38" height="2.60" fill="#161616" />
<rect x="90.82" y="148.13" width="1.14" height="2.21" fill="#161616" />
<rect x="92.48" y="148.13" width="1.15" height="2.21" fill="#161616" />
<rect x="94.18" y="148.13" width="1.18" height="2.21" fill="#161616" />
<rect x="95.90" y="147.74" width="0.78" height="2.60" fill="#161616" />
<rect x="97.27" y="147.74" width="1.62" height="2.60" fill="#161616" />
<rect x="99.20" y="147.74" width="0.72" height="2.60" fill="#161616" />
<rect x="100.48" y="147.74" width="2.19" height="2.60" fill="#161616" />
<rect x="103.16" y="147.74" width="1.75" height="2.60" fill="#161616" />
<rect x="105.25" y="148.13" width="1.51" height="2.21" fill="#161616" />
<rect x="107.16" y="147.74" width="1.59" height="2.60" fill="#161616" />
<rect x="109.08" y="147.74" width="1.46" height="2.60" fill="#161616" />
<rect x="110.92" y="147.74" width="1.59" height="2.60" fill="#161616" />
<rect x="113.00" y="147.74" width="1.99" height="2.60" fill="#161616" />
<rect x="115.53" y="148.13" width="2.16" height="2.21" fill="#161616" />
<rect x="118.05" y="147.74" width="0.88" height="2.60" fill="#161616" />
<rect x="119.36" y="147.74" width="0.47" height="2.60" fill="#161616" />
<rect x="120.30" y="149.44" width="14.70" height="0.90" fill="#4a4a38" />
<rect x="120.80" y="148.72" width="1.37" height="1.62" fill="#3a3a30" />
<rect x="123.29" y="147.97" width="0.98" height="2.37" fill="#3a3a30" />
<rect x="126.05" y="148.75" width="0.98" height="1.59" fill="#3a3a30" />
<rect x="128.33" y="148.77" width="0.56" height="1.57" fill="#3a3a30" />
<rect x="130.50" y="149.43" width="1.20" height="0.91" fill="#3a3a30" />
<rect x="133.31" y="147.77" width="0.85" height="2.57" fill="#3a3a30" />
<rect x="90.03" y="151.32" width="2.03" height="2.60" fill="#161616" />
<rect x="92.46" y="151.32" width="1.77" height="2.60" fill="#161616" />
<rect x="94.60" y="151.32" width="1.26" height="2.60" fill="#161616" />
<rect x="96.24" y="152.10" width="1.26" height="1.82" fill="#161616" />
<rect x="97.97" y="151.71" width="1.58" height="2.21" fill="#161616" />
<rect x="99.85" y="152.10" width="0.70" height="1.82" fill="#161616" />
<rect x="100.82" y="151.32" width="0.91" height="2.60" fill="#161616" />
<rect x="102.01" y="152.10" width="1.35" height="1.82" fill="#161616" />
<rect x="103.68" y="151.32" width="1.51" height="2.60" fill="#161616" />
<rect x="105.76" y="151.71" width="1.37" height="2.21" fill="#161616" />
<rect x="107.51" y="152.10" width="1.36" height="1.82" fill="#161616" />
<rect x="109.36" y="151.71" width="1.46" height="2.21" fill="#161616" />
<rect x="111.40" y="151.32" width="1.41" height="2.60" fill="#161616" />
<rect x="113.37" y="151.71" width="1.53" height="2.21" fill="#161616" />
<rect x="115.19" y="152.10" width="1.60" height="1.82" fill="#161616" />
<rect x="117.07" y="151.32" width="1.89" height="2.60" fill="#161616" />
<rect x="119.35" y="151.32" width="0.40" height="2.60" fill="#161616" />
<rect x="120.30" y="153.02" width="8.10" height="0.90" fill="#4a4a38" />
<rect x="120.80" y="152.75" width="0.63" height="1.17" fill="#3a3a30" />
<rect x="122.75" y="151.41" width="1.03" height="2.51" fill="#3a3a30" />
<rect x="124.67" y="151.97" width="0.76" height="1.95" fill="#3a3a30" />
<rect x="126.89" y="153.00" width="1.29" height="0.92" fill="#3a3a30" />
<rect x="94.20" y="86.63" width="15.60" height="3.10" fill="#c2c488" stroke="#c63a2a" stroke-width="1.1"/>
<rect x="104.60" y="87.48" width="0.82" height="1.50" fill="#8a8a58" />
<rect x="105.91" y="87.48" width="0.82" height="1.50" fill="#8a8a58" />
<rect x="106.70" y="87.48" width="1.13" height="1.50" fill="#8a8a58" />
<rect x="96.39" y="87.48" width="1.16" height="1.50" fill="#8a8a58" />
<rect x="103.32" y="87.48" width="1.38" height="1.50" fill="#8a8a58" />
<rect x="98.05" y="87.48" width="0.82" height="1.50" fill="#8a8a58" />
<rect x="103.37" y="87.48" width="1.46" height="1.50" fill="#8a8a58" />
<rect x="95.85" y="87.48" width="1.02" height="1.50" fill="#8a8a58" />
<rect x="106.58" y="87.48" width="1.01" height="1.50" fill="#8a8a58" />
<rect x="94.20" y="97.37" width="15.60" height="3.10" fill="#c2c488" stroke="#c63a2a" stroke-width="1.1"/>
<rect x="98.22" y="98.22" width="1.33" height="1.50" fill="#8a8a58" />
<rect x="97.47" y="98.22" width="1.32" height="1.50" fill="#8a8a58" />
<rect x="105.59" y="98.22" width="1.42" height="1.50" fill="#8a8a58" />
<rect x="100.19" y="98.22" width="0.84" height="1.50" fill="#8a8a58" />
<rect x="100.95" y="98.22" width="1.46" height="1.50" fill="#8a8a58" />
<rect x="98.06" y="98.22" width="1.07" height="1.50" fill="#8a8a58" />
<rect x="99.52" y="98.22" width="1.09" height="1.50" fill="#8a8a58" />
<rect x="102.53" y="98.22" width="0.86" height="1.50" fill="#8a8a58" />
<rect x="101.73" y="98.22" width="0.81" height="1.50" fill="#8a8a58" />
<rect x="94.20" y="108.11" width="15.60" height="3.10" fill="#c2c488" stroke="#c63a2a" stroke-width="1.1"/>
<rect x="106.04" y="108.96" width="1.08" height="1.50" fill="#8a8a58" />
<rect x="104.30" y="108.96" width="1.03" height="1.50" fill="#8a8a58" />
<rect x="100.83" y="108.96" width="1.22" height="1.50" fill="#8a8a58" />
<rect x="106.01" y="108.96" width="1.13" height="1.50" fill="#8a8a58" />
<rect x="101.42" y="108.96" width="1.35" height="1.50" fill="#8a8a58" />
<rect x="97.51" y="108.96" width="0.60" height="1.50" fill="#8a8a58" />
<rect x="100.96" y="108.96" width="1.43" height="1.50" fill="#8a8a58" />
<rect x="101.52" y="108.96" width="1.34" height="1.50" fill="#8a8a58" />
<rect x="99.17" y="108.96" width="1.25" height="1.50" fill="#8a8a58" />
<rect x="94.20" y="118.85" width="15.60" height="3.10" fill="#c2c488" stroke="#c63a2a" stroke-width="1.1"/>
<rect x="99.32" y="119.70" width="0.75" height="1.50" fill="#8a8a58" />
<rect x="106.29" y="119.70" width="1.18" height="1.50" fill="#8a8a58" />
<rect x="104.39" y="119.70" width="0.74" height="1.50" fill="#8a8a58" />
<rect x="99.82" y="119.70" width="0.72" height="1.50" fill="#8a8a58" />
<rect x="98.79" y="119.70" width="0.85" height="1.50" fill="#8a8a58" />
<rect x="95.87" y="119.70" width="1.47" height="1.50" fill="#8a8a58" />
<rect x="104.43" y="119.70" width="0.71" height="1.50" fill="#8a8a58" />
<rect x="99.03" y="119.70" width="0.67" height="1.50" fill="#8a8a58" />
<rect x="97.32" y="119.70" width="0.98" height="1.50" fill="#8a8a58" />
<rect x="94.20" y="129.59" width="15.60" height="3.10" fill="#c2c488" stroke="#c63a2a" stroke-width="1.1"/>
<rect x="97.83" y="130.44" width="1.31" height="1.50" fill="#8a8a58" />
<rect x="99.80" y="130.44" width="0.73" height="1.50" fill="#8a8a58" />
<rect x="103.82" y="130.44" width="1.03" height="1.50" fill="#8a8a58" />
<rect x="102.74" y="130.44" width="0.92" height="1.50" fill="#8a8a58" />
<rect x="97.43" y="130.44" width="0.80" height="1.50" fill="#8a8a58" />
<rect x="99.92" y="130.44" width="0.58" height="1.50" fill="#8a8a58" />
<rect x="101.96" y="130.44" width="0.96" height="1.50" fill="#8a8a58" />
<rect x="95.43" y="130.44" width="0.68" height="1.50" fill="#8a8a58" />
<rect x="101.75" y="130.44" width="0.92" height="1.50" fill="#8a8a58" />
<rect x="94.20" y="140.33" width="15.60" height="3.10" fill="#c2c488" stroke="#c63a2a" stroke-width="1.1"/>
<rect x="101.44" y="141.18" width="0.89" height="1.50" fill="#8a8a58" />
<rect x="101.51" y="141.18" width="0.99" height="1.50" fill="#8a8a58" />
<rect x="100.32" y="141.18" width="1.12" height="1.50" fill="#8a8a58" />
<rect x="104.75" y="141.18" width="0.61" height="1.50" fill="#8a8a58" />
<rect x="100.48" y="141.18" width="1.36" height="1.50" fill="#8a8a58" />
<rect x="97.02" y="141.18" width="0.82" height="1.50" fill="#8a8a58" />
<rect x="99.60" y="141.18" width="0.65" height="1.50" fill="#8a8a58" />
<rect x="98.95" y="141.18" width="1.13" height="1.50" fill="#8a8a58" />
<rect x="97.11" y="141.18" width="1.42" height="1.50" fill="#8a8a58" />
<rect x="70.45" y="86.98" width="0.70" height="0.70" fill="#9a9a80" />
<rect x="67.30" y="127.70" width="0.70" height="0.70" fill="#9a9a80" />
<rect x="139.19" y="124.83" width="0.70" height="0.70" fill="#9a9a80" />
<rect x="60.57" y="106.32" width="0.70" height="0.70" fill="#9a9a80" />
<rect x="74.49" y="147.56" width="0.70" height="0.70" fill="#9a9a80" />
<rect x="75.96" y="122.48" width="0.70" height="0.70" fill="#9a9a80" />
<rect x="69.90" y="96.57" width="0.70" height="0.70" fill="#9a9a80" />
<rect x="61.35" y="97.09" width="0.70" height="0.70" fill="#9a9a80" />
<rect x="64.64" y="95.24" width="0.70" height="0.70" fill="#9a9a80" />
<rect x="24.55" y="155.80" width="120.45" height="3.80" fill="#f1f43e" />
<rect x="89.50" y="155.80" width="30.80" height="3.80" fill="#212021" />
<line x1="24.55" y1="155.25" x2="145.00" y2="155.25" stroke="#2a2a2a" stroke-width="1.1" />
<rect x="24.55" y="81.10" width="120.45" height="79.00" fill="none" stroke="#333" stroke-width="1.3"/>
<text x="68.40" y="90.47" font-size="6.9" font-weight="normal" text-anchor="end" fill="#111" stroke="#111" stroke-width="0.12">1000 lux</text>
<line x1="69.20" y1="88.10" x2="86.60" y2="88.10" stroke="#ee2a24" stroke-width="2.0" />
<path d="M86.10,86.50 L88.70,88.10 L86.10,89.70 Z" fill="#ee2a24"/>
<text x="68.40" y="101.27" font-size="6.9" font-weight="normal" text-anchor="end" fill="#111" stroke="#111" stroke-width="0.12">500 lux</text>
<line x1="69.20" y1="98.90" x2="86.60" y2="98.90" stroke="#ee2a24" stroke-width="2.0" />
<path d="M86.10,97.30 L88.70,98.90 L86.10,100.50 Z" fill="#ee2a24"/>
<text x="68.40" y="112.57" font-size="6.9" font-weight="normal" text-anchor="end" fill="#111" stroke="#111" stroke-width="0.12">250 lux</text>
<line x1="69.20" y1="110.20" x2="86.60" y2="110.20" stroke="#ee2a24" stroke-width="2.0" />
<path d="M86.10,108.60 L88.70,110.20 L86.10,111.80 Z" fill="#ee2a24"/>
<text x="68.40" y="122.87" font-size="6.9" font-weight="normal" text-anchor="end" fill="#111" stroke="#111" stroke-width="0.12">125 lux</text>
<line x1="69.20" y1="120.50" x2="86.60" y2="120.50" stroke="#ee2a24" stroke-width="2.0" />
<path d="M86.10,118.90 L88.70,120.50 L86.10,122.10 Z" fill="#ee2a24"/>
<text x="68.40" y="134.27" font-size="6.9" font-weight="normal" text-anchor="end" fill="#111" stroke="#111" stroke-width="0.12">65 lux</text>
<line x1="69.20" y1="131.90" x2="86.60" y2="131.90" stroke="#ee2a24" stroke-width="2.0" />
<path d="M86.10,130.30 L88.70,131.90 L86.10,133.50 Z" fill="#ee2a24"/>
<text x="68.40" y="144.97" font-size="6.9" font-weight="normal" text-anchor="end" fill="#111" stroke="#111" stroke-width="0.12">32 lux</text>
<line x1="69.20" y1="142.60" x2="86.60" y2="142.60" stroke="#ee2a24" stroke-width="2.0" />
<path d="M86.10,141.00 L88.70,142.60 L86.10,144.20 Z" fill="#ee2a24"/>
<line x1="80.30" y1="95.30" x2="86.40" y2="95.30" stroke="#1a1a1a" stroke-width="1.6" />
<path d="M85.90,93.40 L88.70,95.30 L85.90,97.20 Z" fill="#1a1a1a"/>
<line x1="80.30" y1="106.20" x2="86.40" y2="106.20" stroke="#1a1a1a" stroke-width="1.6" />
<path d="M85.90,104.30 L88.70,106.20 L85.90,108.10 Z" fill="#1a1a1a"/>
<line x1="80.30" y1="117.10" x2="86.40" y2="117.10" stroke="#1a1a1a" stroke-width="1.6" />
<path d="M85.90,115.20 L88.70,117.10 L85.90,119.00 Z" fill="#1a1a1a"/>
<line x1="80.30" y1="128.20" x2="86.40" y2="128.20" stroke="#1a1a1a" stroke-width="1.6" />
<path d="M85.90,126.30 L88.70,128.20 L85.90,130.10 Z" fill="#1a1a1a"/>
<line x1="80.30" y1="139.10" x2="86.40" y2="139.10" stroke="#1a1a1a" stroke-width="1.6" />
<path d="M85.90,137.20 L88.70,139.10 L85.90,141.00 Z" fill="#1a1a1a"/>
<text x="26.40" y="77.80" font-size="10.2" font-weight="bold" text-anchor="start" fill="#231f20"  stroke="#231f20" stroke-width="0.11">Veh.</text>
<text x="80.00" y="93.20" font-size="4.4" font-weight="bold" text-anchor="start" fill="#222"  stroke="#222" stroke-width="0.11">BL</text>
<text x="70.00" y="97.50" font-size="5.6" font-weight="normal" text-anchor="start" fill="#333"  stroke="#333" stroke-width="0.22">LP</text>
<rect x="370.90" y="82.60" width="118.70" height="76.00" fill="#f4f9d1" />
<line x1="370.90" y1="86.82" x2="489.60" y2="86.82" stroke="#d9ddb8" stroke-width="0.9" />
<line x1="370.90" y1="90.40" x2="489.60" y2="90.40" stroke="#d9ddb8" stroke-width="0.9" />
<line x1="370.90" y1="93.98" x2="489.60" y2="93.98" stroke="#d9ddb8" stroke-width="0.9" />
<line x1="370.90" y1="97.56" x2="489.60" y2="97.56" stroke="#d9ddb8" stroke-width="0.9" />
<line x1="370.90" y1="101.14" x2="489.60" y2="101.14" stroke="#d9ddb8" stroke-width="0.9" />
<line x1="370.90" y1="104.72" x2="489.60" y2="104.72" stroke="#d9ddb8" stroke-width="0.9" />
<line x1="370.90" y1="108.30" x2="489.60" y2="108.30" stroke="#d9ddb8" stroke-width="0.9" />
<line x1="370.90" y1="111.88" x2="489.60" y2="111.88" stroke="#d9ddb8" stroke-width="0.9" />
<line x1="370.90" y1="115.46" x2="489.60" y2="115.46" stroke="#d9ddb8" stroke-width="0.9" />
<line x1="370.90" y1="119.04" x2="489.60" y2="119.04" stroke="#d9ddb8" stroke-width="0.9" />
<line x1="370.90" y1="122.62" x2="489.60" y2="122.62" stroke="#d9ddb8" stroke-width="0.9" />
<line x1="370.90" y1="126.20" x2="489.60" y2="126.20" stroke="#d9ddb8" stroke-width="0.9" />
<line x1="370.90" y1="129.78" x2="489.60" y2="129.78" stroke="#d9ddb8" stroke-width="0.9" />
<line x1="370.90" y1="133.36" x2="489.60" y2="133.36" stroke="#d9ddb8" stroke-width="0.9" />
<line x1="370.90" y1="136.94" x2="489.60" y2="136.94" stroke="#d9ddb8" stroke-width="0.9" />
<line x1="370.90" y1="140.52" x2="489.60" y2="140.52" stroke="#d9ddb8" stroke-width="0.9" />
<line x1="370.90" y1="144.10" x2="489.60" y2="144.10" stroke="#d9ddb8" stroke-width="0.9" />
<line x1="370.90" y1="147.68" x2="489.60" y2="147.68" stroke="#d9ddb8" stroke-width="0.9" />
<line x1="370.90" y1="151.26" x2="489.60" y2="151.26" stroke="#d9ddb8" stroke-width="0.9" />
<rect x="434.40" y="82.60" width="30.40" height="72.20" fill="#e4e4e4" />
<rect x="434.67" y="88.20" width="1.33" height="1.47" fill="#262626" />
<rect x="437.89" y="88.20" width="0.67" height="1.47" fill="#262626" />
<rect x="440.53" y="88.72" width="0.58" height="0.94" fill="#262626" />
<rect x="442.71" y="88.72" width="0.98" height="0.94" fill="#262626" />
<rect x="446.35" y="87.57" width="1.04" height="2.10" fill="#262626" />
<rect x="449.15" y="88.20" width="1.09" height="1.47" fill="#262626" />
<rect x="452.39" y="88.72" width="1.06" height="0.94" fill="#262626" />
<rect x="456.00" y="88.20" width="0.55" height="1.47" fill="#262626" />
<rect x="457.95" y="87.78" width="1.04" height="1.89" fill="#262626" />
<rect x="461.44" y="88.20" width="0.90" height="1.47" fill="#262626" />
<rect x="434.78" y="91.30" width="1.10" height="1.89" fill="#262626" />
<rect x="436.50" y="92.25" width="0.87" height="0.94" fill="#262626" />
<rect x="438.05" y="91.72" width="1.14" height="1.47" fill="#262626" />
<rect x="439.73" y="92.25" width="0.96" height="0.94" fill="#262626" />
<rect x="441.06" y="91.09" width="0.86" height="2.10" fill="#262626" />
<rect x="442.78" y="92.25" width="0.56" height="0.94" fill="#262626" />
<rect x="443.70" y="92.25" width="0.69" height="0.94" fill="#262626" />
<rect x="445.29" y="91.09" width="0.92" height="2.10" fill="#262626" />
<rect x="447.16" y="91.72" width="0.88" height="1.47" fill="#262626" />
<rect x="448.72" y="92.25" width="1.20" height="0.94" fill="#262626" />
<rect x="450.44" y="91.09" width="0.78" height="2.10" fill="#262626" />
<rect x="451.57" y="91.72" width="1.18" height="1.47" fill="#262626" />
<rect x="453.18" y="91.09" width="1.14" height="2.10" fill="#262626" />
<rect x="454.67" y="91.72" width="1.22" height="1.47" fill="#262626" />
<rect x="456.34" y="91.72" width="0.90" height="1.47" fill="#262626" />
<rect x="457.71" y="91.09" width="0.88" height="2.10" fill="#262626" />
<rect x="459.17" y="91.30" width="0.88" height="1.89" fill="#262626" />
<rect x="460.53" y="91.30" width="1.28" height="1.89" fill="#262626" />
<rect x="462.74" y="91.72" width="1.40" height="1.47" fill="#262626" />
<rect x="434.64" y="95.24" width="1.08" height="1.47" fill="#262626" />
<rect x="436.12" y="94.82" width="0.69" height="1.89" fill="#262626" />
<rect x="437.32" y="95.77" width="1.25" height="0.94" fill="#262626" />
<rect x="439.15" y="95.24" width="0.58" height="1.47" fill="#262626" />
<rect x="440.43" y="94.61" width="0.51" height="2.10" fill="#262626" />
<rect x="441.52" y="95.24" width="0.61" height="1.47" fill="#262626" />
<rect x="442.83" y="95.24" width="1.28" height="1.47" fill="#262626" />
<rect x="444.57" y="95.24" width="0.78" height="1.47" fill="#262626" />
<rect x="445.84" y="95.24" width="1.15" height="1.47" fill="#262626" />
<rect x="447.44" y="94.61" width="1.12" height="2.10" fill="#262626" />
<rect x="449.14" y="95.77" width="1.04" height="0.94" fill="#262626" />
<rect x="450.78" y="94.82" width="0.60" height="1.89" fill="#262626" />
<rect x="452.04" y="94.82" width="0.71" height="1.89" fill="#262626" />
<rect x="453.53" y="94.61" width="0.88" height="2.10" fill="#262626" />
<rect x="455.30" y="95.77" width="0.76" height="0.94" fill="#262626" />
<rect x="456.52" y="95.77" width="0.61" height="0.94" fill="#262626" />
<rect x="457.77" y="95.24" width="0.75" height="1.47" fill="#262626" />
<rect x="459.42" y="94.61" width="1.17" height="2.10" fill="#262626" />
<rect x="460.99" y="95.24" width="0.90" height="1.47" fill="#262626" />
<rect x="462.28" y="95.24" width="0.75" height="1.47" fill="#262626" />
<rect x="463.70" y="94.61" width="0.25" height="2.10" fill="#262626" />
<rect x="434.99" y="98.76" width="1.12" height="1.47" fill="#262626" />
<rect x="438.21" y="98.13" width="1.03" height="2.10" fill="#262626" />
<rect x="441.96" y="99.28" width="1.32" height="0.94" fill="#262626" />
<rect x="445.59" y="98.13" width="0.52" height="2.10" fill="#262626" />
<rect x="448.30" y="98.76" width="0.56" height="1.47" fill="#262626" />
<rect x="450.47" y="98.34" width="1.40" height="1.89" fill="#262626" />
<rect x="453.06" y="98.76" width="1.16" height="1.47" fill="#262626" />
<rect x="456.89" y="98.34" width="1.21" height="1.89" fill="#262626" />
<rect x="460.80" y="99.28" width="0.58" height="0.94" fill="#262626" />
<rect x="463.28" y="99.28" width="0.86" height="0.94" fill="#262626" />
<rect x="434.92" y="102.80" width="1.06" height="0.94" fill="#262626" />
<rect x="436.56" y="102.80" width="1.05" height="0.94" fill="#262626" />
<rect x="438.01" y="101.86" width="1.39" height="1.89" fill="#262626" />
<rect x="440.28" y="101.65" width="0.85" height="2.10" fill="#262626" />
<rect x="441.92" y="102.80" width="0.90" height="0.94" fill="#262626" />
<rect x="443.67" y="101.86" width="0.97" height="1.89" fill="#262626" />
<rect x="445.29" y="102.28" width="1.04" height="1.47" fill="#262626" />
<rect x="446.97" y="101.65" width="1.36" height="2.10" fill="#262626" />
<rect x="448.75" y="101.86" width="0.73" height="1.89" fill="#262626" />
<rect x="449.84" y="102.28" width="0.63" height="1.47" fill="#262626" />
<rect x="451.19" y="101.65" width="1.18" height="2.10" fill="#262626" />
<rect x="452.92" y="101.65" width="0.95" height="2.10" fill="#262626" />
<rect x="454.36" y="101.65" width="1.10" height="2.10" fill="#262626" />
<rect x="455.93" y="102.28" width="1.22" height="1.47" fill="#262626" />
<rect x="457.96" y="101.86" width="1.29" height="1.89" fill="#262626" />
<rect x="459.83" y="101.86" width="0.69" height="1.89" fill="#262626" />
<rect x="460.95" y="102.80" width="1.25" height="0.94" fill="#262626" />
<rect x="463.06" y="102.28" width="1.16" height="1.47" fill="#262626" />
<rect x="434.47" y="105.17" width="1.33" height="2.10" fill="#262626" />
<rect x="436.65" y="105.38" width="1.06" height="1.89" fill="#262626" />
<rect x="438.36" y="105.17" width="1.14" height="2.10" fill="#262626" />
<rect x="440.36" y="105.38" width="0.79" height="1.89" fill="#262626" />
<rect x="441.99" y="105.38" width="1.29" height="1.89" fill="#262626" />
<rect x="443.65" y="106.33" width="1.01" height="0.94" fill="#262626" />
<rect x="445.20" y="105.80" width="1.08" height="1.47" fill="#262626" />
<rect x="446.87" y="105.80" width="0.52" height="1.47" fill="#262626" />
<rect x="448.24" y="106.33" width="1.20" height="0.94" fill="#262626" />
<rect x="450.27" y="105.38" width="0.90" height="1.89" fill="#262626" />
<rect x="451.90" y="105.80" width="1.36" height="1.47" fill="#262626" />
<rect x="454.03" y="106.33" width="1.24" height="0.94" fill="#262626" />
<rect x="455.77" y="106.33" width="1.18" height="0.94" fill="#262626" />
<rect x="457.62" y="105.38" width="0.66" height="1.89" fill="#262626" />
<rect x="458.80" y="105.80" width="0.99" height="1.47" fill="#262626" />
<rect x="460.70" y="105.80" width="0.85" height="1.47" fill="#262626" />
<rect x="462.38" y="105.17" width="0.58" height="2.10" fill="#262626" />
<rect x="463.87" y="106.33" width="0.46" height="0.94" fill="#262626" />
<rect x="434.63" y="108.90" width="1.29" height="1.89" fill="#262626" />
<rect x="436.75" y="109.32" width="0.92" height="1.47" fill="#262626" />
<rect x="438.40" y="109.84" width="0.59" height="0.94" fill="#262626" />
<rect x="439.86" y="109.84" width="0.69" height="0.94" fill="#262626" />
<rect x="441.44" y="108.90" width="1.38" height="1.89" fill="#262626" />
<rect x="443.50" y="109.84" width="0.74" height="0.94" fill="#262626" />
<rect x="445.01" y="108.69" width="0.81" height="2.10" fill="#262626" />
<rect x="446.23" y="108.90" width="0.81" height="1.89" fill="#262626" />
<rect x="447.64" y="109.84" width="0.94" height="0.94" fill="#262626" />
<rect x="448.94" y="108.90" width="0.89" height="1.89" fill="#262626" />
<rect x="450.20" y="108.69" width="1.12" height="2.10" fill="#262626" />
<rect x="452.22" y="108.69" width="0.63" height="2.10" fill="#262626" />
<rect x="453.51" y="109.84" width="1.35" height="0.94" fill="#262626" />
<rect x="455.51" y="108.90" width="1.18" height="1.89" fill="#262626" />
<rect x="457.30" y="109.32" width="1.25" height="1.47" fill="#262626" />
<rect x="459.24" y="108.90" width="0.97" height="1.89" fill="#262626" />
<rect x="461.07" y="109.32" width="0.78" height="1.47" fill="#262626" />
<rect x="462.42" y="108.90" width="0.77" height="1.89" fill="#262626" />
<rect x="463.63" y="109.84" width="0.60" height="0.94" fill="#262626" />
<rect x="464.80" y="110.14" width="7.20" height="0.90" fill="#4a4a38" />
<rect x="465.30" y="109.15" width="0.95" height="1.89" fill="#3a3a30" />
<rect x="466.79" y="109.31" width="1.37" height="1.73" fill="#3a3a30" />
<rect x="469.18" y="109.23" width="1.22" height="1.81" fill="#3a3a30" />
<rect x="434.81" y="112.21" width="0.98" height="2.10" fill="#262626" />
<rect x="436.40" y="112.84" width="0.74" height="1.47" fill="#262626" />
<rect x="437.77" y="112.21" width="0.81" height="2.10" fill="#262626" />
<rect x="439.47" y="112.21" width="0.97" height="2.10" fill="#262626" />
<rect x="440.86" y="112.84" width="1.06" height="1.47" fill="#262626" />
<rect x="442.82" y="113.36" width="1.13" height="0.94" fill="#262626" />
<rect x="444.89" y="112.42" width="0.67" height="1.89" fill="#262626" />
<rect x="446.05" y="112.21" width="0.79" height="2.10" fill="#262626" />
<rect x="447.40" y="113.36" width="0.59" height="0.94" fill="#262626" />
<rect x="448.78" y="112.84" width="1.27" height="1.47" fill="#262626" />
<rect x="450.78" y="113.36" width="1.13" height="0.94" fill="#262626" />
<rect x="452.78" y="112.84" width="0.84" height="1.47" fill="#262626" />
<rect x="454.22" y="112.84" width="0.98" height="1.47" fill="#262626" />
<rect x="456.07" y="112.84" width="0.98" height="1.47" fill="#262626" />
<rect x="457.91" y="112.42" width="0.71" height="1.89" fill="#262626" />
<rect x="459.41" y="112.42" width="1.31" height="1.89" fill="#262626" />
<rect x="461.27" y="112.84" width="1.30" height="1.47" fill="#262626" />
<rect x="463.03" y="112.84" width="1.30" height="1.47" fill="#262626" />
<rect x="434.48" y="115.73" width="0.85" height="2.10" fill="#262626" />
<rect x="435.94" y="116.36" width="0.99" height="1.47" fill="#262626" />
<rect x="437.70" y="116.89" width="0.86" height="0.94" fill="#262626" />
<rect x="439.32" y="115.94" width="0.59" height="1.89" fill="#262626" />
<rect x="440.60" y="116.89" width="1.32" height="0.94" fill="#262626" />
<rect x="442.85" y="115.94" width="1.13" height="1.89" fill="#262626" />
<rect x="444.72" y="116.36" width="0.95" height="1.47" fill="#262626" />
<rect x="446.43" y="116.89" width="1.22" height="0.94" fill="#262626" />
<rect x="448.30" y="115.73" width="0.53" height="2.10" fill="#262626" />
<rect x="449.51" y="116.36" width="0.63" height="1.47" fill="#262626" />
<rect x="450.60" y="115.94" width="0.66" height="1.89" fill="#262626" />
<rect x="451.70" y="116.89" width="1.33" height="0.94" fill="#262626" />
<rect x="453.44" y="116.89" width="0.62" height="0.94" fill="#262626" />
<rect x="454.82" y="115.73" width="1.19" height="2.10" fill="#262626" />
<rect x="456.56" y="116.36" width="0.88" height="1.47" fill="#262626" />
<rect x="458.00" y="116.89" width="1.04" height="0.94" fill="#262626" />
<rect x="459.40" y="115.73" width="1.26" height="2.10" fill="#262626" />
<rect x="461.12" y="116.36" width="0.82" height="1.47" fill="#262626" />
<rect x="462.52" y="116.89" width="1.04" height="0.94" fill="#262626" />
<rect x="463.97" y="115.73" width="0.74" height="2.10" fill="#262626" />
<rect x="434.74" y="119.46" width="1.03" height="1.89" fill="#262626" />
<rect x="436.32" y="119.88" width="0.75" height="1.47" fill="#262626" />
<rect x="437.49" y="119.46" width="1.23" height="1.89" fill="#262626" />
<rect x="439.32" y="119.25" width="1.29" height="2.10" fill="#262626" />
<rect x="441.38" y="119.88" width="1.19" height="1.47" fill="#262626" />
<rect x="443.16" y="119.25" width="0.56" height="2.10" fill="#262626" />
<rect x="444.28" y="120.41" width="0.59" height="0.94" fill="#262626" />
<rect x="445.75" y="119.46" width="0.71" height="1.89" fill="#262626" />
<rect x="447.38" y="119.88" width="0.80" height="1.47" fill="#262626" />
<rect x="448.93" y="119.25" width="0.98" height="2.10" fill="#262626" />
<rect x="450.49" y="119.25" width="1.08" height="2.10" fill="#262626" />
<rect x="452.34" y="120.41" width="1.38" height="0.94" fill="#262626" />
<rect x="454.09" y="119.25" width="1.16" height="2.10" fill="#262626" />
<rect x="455.76" y="119.25" width="0.95" height="2.10" fill="#262626" />
<rect x="457.52" y="119.46" width="0.51" height="1.89" fill="#262626" />
<rect x="458.53" y="119.25" width="1.32" height="2.10" fill="#262626" />
<rect x="460.53" y="120.41" width="1.37" height="0.94" fill="#262626" />
<rect x="462.59" y="120.41" width="1.07" height="0.94" fill="#262626" />
<rect x="464.50" y="120.41" width="0.11" height="0.94" fill="#262626" />
<rect x="434.63" y="122.77" width="0.85" height="2.10" fill="#262626" />
<rect x="436.41" y="122.77" width="0.99" height="2.10" fill="#262626" />
<rect x="438.11" y="122.77" width="1.35" height="2.10" fill="#262626" />
<rect x="440.06" y="122.98" width="1.04" height="1.89" fill="#262626" />
<rect x="441.67" y="122.98" width="0.93" height="1.89" fill="#262626" />
<rect x="443.11" y="123.92" width="1.10" height="0.94" fill="#262626" />
<rect x="445.01" y="123.92" width="0.51" height="0.94" fill="#262626" />
<rect x="446.02" y="122.77" width="1.07" height="2.10" fill="#262626" />
<rect x="447.68" y="122.77" width="0.55" height="2.10" fill="#262626" />
<rect x="448.77" y="122.98" width="0.55" height="1.89" fill="#262626" />
<rect x="450.26" y="122.77" width="0.57" height="2.10" fill="#262626" />
<rect x="451.72" y="123.40" width="1.15" height="1.47" fill="#262626" />
<rect x="453.37" y="122.77" width="0.54" height="2.10" fill="#262626" />
<rect x="454.32" y="123.40" width="0.63" height="1.47" fill="#262626" />
<rect x="455.87" y="122.77" width="1.04" height="2.10" fill="#262626" />
<rect x="457.34" y="123.92" width="0.91" height="0.94" fill="#262626" />
<rect x="458.72" y="122.98" width="0.82" height="1.89" fill="#262626" />
<rect x="459.98" y="122.77" width="0.90" height="2.10" fill="#262626" />
<rect x="461.63" y="122.77" width="1.04" height="2.10" fill="#262626" />
<rect x="463.41" y="123.40" width="0.46" height="1.47" fill="#262626" />
<rect x="434.97" y="126.50" width="0.71" height="1.89" fill="#262626" />
<rect x="436.10" y="126.50" width="1.21" height="1.89" fill="#262626" />
<rect x="438.04" y="126.92" width="0.75" height="1.47" fill="#262626" />
<rect x="439.50" y="126.92" width="1.07" height="1.47" fill="#262626" />
<rect x="441.37" y="126.92" width="1.36" height="1.47" fill="#262626" />
<rect x="443.38" y="127.45" width="1.29" height="0.94" fill="#262626" />
<rect x="445.04" y="127.45" width="0.51" height="0.94" fill="#262626" />
<rect x="446.06" y="126.50" width="1.06" height="1.89" fill="#262626" />
<rect x="447.53" y="126.92" width="0.57" height="1.47" fill="#262626" />
<rect x="448.50" y="126.50" width="1.00" height="1.89" fill="#262626" />
<rect x="450.22" y="126.50" width="0.94" height="1.89" fill="#262626" />
<rect x="451.72" y="127.45" width="0.81" height="0.94" fill="#262626" />
<rect x="453.33" y="126.92" width="1.22" height="1.47" fill="#262626" />
<rect x="455.17" y="126.29" width="0.90" height="2.10" fill="#262626" />
<rect x="456.86" y="126.50" width="1.23" height="1.89" fill="#262626" />
<rect x="458.66" y="126.92" width="0.76" height="1.47" fill="#262626" />
<rect x="460.23" y="127.45" width="0.88" height="0.94" fill="#262626" />
<rect x="461.69" y="127.45" width="0.92" height="0.94" fill="#262626" />
<rect x="463.15" y="126.29" width="0.89" height="2.10" fill="#262626" />
<rect x="434.58" y="130.97" width="0.57" height="0.94" fill="#262626" />
<rect x="435.63" y="130.02" width="1.13" height="1.89" fill="#262626" />
<rect x="437.40" y="130.02" width="0.75" height="1.89" fill="#262626" />
<rect x="438.59" y="130.97" width="1.09" height="0.94" fill="#262626" />
<rect x="440.23" y="130.02" width="0.79" height="1.89" fill="#262626" />
<rect x="441.63" y="130.02" width="0.89" height="1.89" fill="#262626" />
<rect x="443.36" y="130.44" width="0.91" height="1.47" fill="#262626" />
<rect x="444.75" y="130.97" width="0.58" height="0.94" fill="#262626" />
<rect x="446.18" y="129.81" width="0.83" height="2.10" fill="#262626" />
<rect x="447.59" y="130.02" width="1.22" height="1.89" fill="#262626" />
<rect x="449.60" y="130.44" width="1.22" height="1.47" fill="#262626" />
<rect x="451.49" y="130.02" width="0.66" height="1.89" fill="#262626" />
<rect x="452.96" y="130.97" width="1.23" height="0.94" fill="#262626" />
<rect x="454.67" y="130.97" width="0.99" height="0.94" fill="#262626" />
<rect x="456.35" y="130.97" width="1.09" height="0.94" fill="#262626" />
<rect x="458.27" y="130.97" width="1.02" height="0.94" fill="#262626" />
<rect x="459.82" y="130.97" width="0.80" height="0.94" fill="#262626" />
<rect x="461.14" y="130.44" width="1.31" height="1.47" fill="#262626" />
<rect x="462.85" y="129.81" width="0.59" height="2.10" fill="#262626" />
<rect x="464.80" y="131.26" width="3.20" height="0.90" fill="#4a4a38" />
<rect x="465.30" y="130.96" width="0.72" height="1.20" fill="#3a3a30" />
<rect x="434.71" y="133.54" width="0.85" height="1.89" fill="#262626" />
<rect x="436.12" y="134.49" width="1.11" height="0.94" fill="#262626" />
<rect x="437.87" y="133.33" width="1.14" height="2.10" fill="#262626" />
<rect x="439.91" y="133.54" width="1.18" height="1.89" fill="#262626" />
<rect x="442.03" y="134.49" width="1.27" height="0.94" fill="#262626" />
<rect x="444.13" y="134.49" width="1.30" height="0.94" fill="#262626" />
<rect x="446.36" y="134.49" width="0.97" height="0.94" fill="#262626" />
<rect x="448.10" y="133.96" width="0.88" height="1.47" fill="#262626" />
<rect x="449.59" y="133.33" width="0.72" height="2.10" fill="#262626" />
<rect x="450.75" y="133.33" width="1.12" height="2.10" fill="#262626" />
<rect x="452.41" y="134.49" width="0.88" height="0.94" fill="#262626" />
<rect x="453.82" y="133.54" width="0.92" height="1.89" fill="#262626" />
<rect x="455.53" y="133.96" width="1.08" height="1.47" fill="#262626" />
<rect x="457.43" y="134.49" width="1.32" height="0.94" fill="#262626" />
<rect x="459.56" y="134.49" width="1.03" height="0.94" fill="#262626" />
<rect x="461.48" y="133.54" width="0.78" height="1.89" fill="#262626" />
<rect x="462.73" y="133.33" width="0.70" height="2.10" fill="#262626" />
<rect x="463.91" y="133.96" width="0.12" height="1.47" fill="#262626" />
<rect x="434.94" y="136.85" width="1.32" height="2.10" fill="#262626" />
<rect x="437.17" y="136.85" width="1.27" height="2.10" fill="#262626" />
<rect x="439.08" y="138.00" width="1.32" height="0.94" fill="#262626" />
<rect x="440.96" y="138.00" width="0.93" height="0.94" fill="#262626" />
<rect x="442.37" y="136.85" width="0.70" height="2.10" fill="#262626" />
<rect x="443.50" y="137.06" width="1.38" height="1.89" fill="#262626" />
<rect x="445.70" y="137.48" width="1.21" height="1.47" fill="#262626" />
<rect x="447.30" y="137.06" width="1.30" height="1.89" fill="#262626" />
<rect x="449.48" y="136.85" width="0.91" height="2.10" fill="#262626" />
<rect x="450.88" y="137.48" width="1.05" height="1.47" fill="#262626" />
<rect x="452.37" y="137.48" width="1.19" height="1.47" fill="#262626" />
<rect x="454.00" y="137.06" width="1.07" height="1.89" fill="#262626" />
<rect x="456.02" y="137.48" width="0.96" height="1.47" fill="#262626" />
<rect x="457.36" y="137.48" width="0.50" height="1.47" fill="#262626" />
<rect x="458.71" y="137.06" width="1.24" height="1.89" fill="#262626" />
<rect x="460.35" y="136.85" width="1.05" height="2.10" fill="#262626" />
<rect x="462.07" y="137.06" width="1.12" height="1.89" fill="#262626" />
<rect x="463.59" y="137.48" width="0.52" height="1.47" fill="#262626" />
<rect x="434.95" y="140.37" width="1.24" height="2.10" fill="#262626" />
<rect x="436.67" y="140.58" width="0.97" height="1.89" fill="#262626" />
<rect x="438.09" y="140.58" width="0.78" height="1.89" fill="#262626" />
<rect x="439.46" y="141.53" width="1.40" height="0.94" fill="#262626" />
<rect x="441.61" y="141.53" width="0.82" height="0.94" fill="#262626" />
<rect x="443.20" y="141.53" width="1.10" height="0.94" fill="#262626" />
<rect x="445.05" y="140.37" width="1.09" height="2.10" fill="#262626" />
<rect x="446.50" y="140.58" width="1.14" height="1.89" fill="#262626" />
<rect x="448.28" y="141.53" width="1.01" height="0.94" fill="#262626" />
<rect x="449.91" y="141.00" width="1.27" height="1.47" fill="#262626" />
<rect x="452.04" y="140.37" width="1.31" height="2.10" fill="#262626" />
<rect x="453.79" y="140.58" width="1.34" height="1.89" fill="#262626" />
<rect x="455.93" y="141.53" width="1.18" height="0.94" fill="#262626" />
<rect x="457.79" y="141.53" width="0.73" height="0.94" fill="#262626" />
<rect x="459.00" y="140.37" width="0.80" height="2.10" fill="#262626" />
<rect x="460.71" y="140.37" width="1.15" height="2.10" fill="#262626" />
<rect x="462.41" y="141.53" width="0.58" height="0.94" fill="#262626" />
<rect x="463.43" y="141.00" width="0.62" height="1.47" fill="#262626" />
<rect x="434.51" y="145.05" width="1.25" height="0.94" fill="#262626" />
<rect x="436.47" y="145.05" width="0.59" height="0.94" fill="#262626" />
<rect x="437.43" y="144.10" width="0.89" height="1.89" fill="#262626" />
<rect x="439.13" y="144.52" width="1.33" height="1.47" fill="#262626" />
<rect x="441.06" y="143.89" width="1.08" height="2.10" fill="#262626" />
<rect x="442.96" y="145.05" width="0.93" height="0.94" fill="#262626" />
<rect x="444.79" y="144.10" width="1.15" height="1.89" fill="#262626" />
<rect x="446.67" y="145.05" width="1.38" height="0.94" fill="#262626" />
<rect x="448.87" y="144.10" width="0.73" height="1.89" fill="#262626" />
<rect x="450.07" y="143.89" width="1.09" height="2.10" fill="#262626" />
<rect x="451.57" y="144.10" width="0.68" height="1.89" fill="#262626" />
<rect x="452.81" y="144.52" width="1.24" height="1.47" fill="#262626" />
<rect x="454.76" y="144.10" width="0.73" height="1.89" fill="#262626" />
<rect x="456.17" y="144.52" width="0.99" height="1.47" fill="#262626" />
<rect x="457.72" y="144.52" width="1.02" height="1.47" fill="#262626" />
<rect x="459.21" y="144.52" width="1.01" height="1.47" fill="#262626" />
<rect x="460.58" y="143.89" width="1.20" height="2.10" fill="#262626" />
<rect x="462.21" y="144.10" width="1.02" height="1.89" fill="#262626" />
<rect x="464.00" y="144.10" width="0.40" height="1.89" fill="#262626" />
<rect x="434.68" y="148.56" width="1.38" height="0.94" fill="#262626" />
<rect x="436.49" y="147.62" width="1.00" height="1.89" fill="#262626" />
<rect x="438.00" y="148.56" width="1.04" height="0.94" fill="#262626" />
<rect x="439.46" y="148.04" width="0.76" height="1.47" fill="#262626" />
<rect x="441.11" y="148.04" width="1.18" height="1.47" fill="#262626" />
<rect x="442.86" y="148.56" width="0.67" height="0.94" fill="#262626" />
<rect x="444.21" y="148.04" width="0.91" height="1.47" fill="#262626" />
<rect x="445.71" y="147.41" width="0.78" height="2.10" fill="#262626" />
<rect x="447.24" y="148.56" width="1.05" height="0.94" fill="#262626" />
<rect x="449.03" y="148.56" width="0.64" height="0.94" fill="#262626" />
<rect x="450.27" y="147.41" width="0.63" height="2.10" fill="#262626" />
<rect x="451.48" y="147.62" width="0.66" height="1.89" fill="#262626" />
<rect x="452.79" y="148.56" width="0.72" height="0.94" fill="#262626" />
<rect x="454.42" y="148.04" width="1.08" height="1.47" fill="#262626" />
<rect x="455.87" y="148.56" width="0.86" height="0.94" fill="#262626" />
<rect x="457.38" y="147.41" width="0.92" height="2.10" fill="#262626" />
<rect x="458.90" y="147.41" width="1.18" height="2.10" fill="#262626" />
<rect x="460.72" y="147.41" width="1.25" height="2.10" fill="#262626" />
<rect x="462.84" y="148.56" width="1.24" height="0.94" fill="#262626" />
<rect x="464.50" y="147.41" width="0.17" height="2.10" fill="#262626" />
<rect x="434.65" y="150.93" width="1.32" height="2.10" fill="#262626" />
<rect x="436.50" y="151.14" width="1.16" height="1.89" fill="#262626" />
<rect x="438.36" y="151.56" width="1.29" height="1.47" fill="#262626" />
<rect x="440.53" y="150.93" width="0.61" height="2.10" fill="#262626" />
<rect x="441.76" y="152.09" width="1.38" height="0.94" fill="#262626" />
<rect x="443.78" y="151.14" width="0.97" height="1.89" fill="#262626" />
<rect x="445.24" y="152.09" width="1.09" height="0.94" fill="#262626" />
<rect x="447.25" y="151.14" width="1.40" height="1.89" fill="#262626" />
<rect x="449.44" y="151.56" width="1.28" height="1.47" fill="#262626" />
<rect x="451.32" y="152.09" width="0.70" height="0.94" fill="#262626" />
<rect x="452.82" y="151.56" width="1.31" height="1.47" fill="#262626" />
<rect x="454.54" y="150.93" width="0.61" height="2.10" fill="#262626" />
<rect x="455.82" y="151.14" width="0.50" height="1.89" fill="#262626" />
<rect x="456.82" y="150.93" width="0.52" height="2.10" fill="#262626" />
<rect x="457.79" y="150.93" width="1.31" height="2.10" fill="#262626" />
<rect x="459.94" y="151.56" width="0.63" height="1.47" fill="#262626" />
<rect x="461.33" y="151.14" width="0.54" height="1.89" fill="#262626" />
<rect x="462.24" y="150.93" width="0.78" height="2.10" fill="#262626" />
<rect x="463.67" y="152.09" width="1.11" height="0.94" fill="#262626" />
<rect x="440.00" y="87.07" width="15.60" height="3.10" fill="#e6e9b6" stroke="#c63a2a" stroke-width="1.1"/>
<rect x="443.46" y="87.92" width="1.34" height="1.50" fill="#8a8a58" />
<rect x="445.46" y="87.92" width="0.97" height="1.50" fill="#8a8a58" />
<rect x="440.00" y="97.63" width="15.60" height="3.10" fill="#e6e9b6" stroke="#c63a2a" stroke-width="1.1"/>
<rect x="443.17" y="98.48" width="1.38" height="1.50" fill="#8a8a58" />
<rect x="453.54" y="98.48" width="0.70" height="1.50" fill="#8a8a58" />
<rect x="440.00" y="108.19" width="15.60" height="3.10" fill="#c2c488" stroke="#c63a2a" stroke-width="1.1"/>
<rect x="448.97" y="109.04" width="0.69" height="1.50" fill="#8a8a58" />
<rect x="452.09" y="109.04" width="0.55" height="1.50" fill="#8a8a58" />
<rect x="442.34" y="109.04" width="1.23" height="1.50" fill="#8a8a58" />
<rect x="444.94" y="109.04" width="1.40" height="1.50" fill="#8a8a58" />
<rect x="451.96" y="109.04" width="1.21" height="1.50" fill="#8a8a58" />
<rect x="442.70" y="109.04" width="1.20" height="1.50" fill="#8a8a58" />
<rect x="452.82" y="109.04" width="0.95" height="1.50" fill="#8a8a58" />
<rect x="442.00" y="109.04" width="0.72" height="1.50" fill="#8a8a58" />
<rect x="444.87" y="109.04" width="1.21" height="1.50" fill="#8a8a58" />
<rect x="440.00" y="118.75" width="15.60" height="3.10" fill="#c2c488" stroke="#c63a2a" stroke-width="1.1"/>
<rect x="443.48" y="119.60" width="0.68" height="1.50" fill="#8a8a58" />
<rect x="443.97" y="119.60" width="1.16" height="1.50" fill="#8a8a58" />
<rect x="450.96" y="119.60" width="0.87" height="1.50" fill="#8a8a58" />
<rect x="449.34" y="119.60" width="1.38" height="1.50" fill="#8a8a58" />
<rect x="448.43" y="119.60" width="0.73" height="1.50" fill="#8a8a58" />
<rect x="444.79" y="119.60" width="1.43" height="1.50" fill="#8a8a58" />
<rect x="449.40" y="119.60" width="0.78" height="1.50" fill="#8a8a58" />
<rect x="449.06" y="119.60" width="0.59" height="1.50" fill="#8a8a58" />
<rect x="453.39" y="119.60" width="0.94" height="1.50" fill="#8a8a58" />
<rect x="440.00" y="129.31" width="15.60" height="3.10" fill="#c2c488" stroke="#c63a2a" stroke-width="1.1"/>
<rect x="447.66" y="130.16" width="1.03" height="1.50" fill="#8a8a58" />
<rect x="441.57" y="130.16" width="1.10" height="1.50" fill="#8a8a58" />
<rect x="444.59" y="130.16" width="0.75" height="1.50" fill="#8a8a58" />
<rect x="451.12" y="130.16" width="0.59" height="1.50" fill="#8a8a58" />
<rect x="444.59" y="130.16" width="1.26" height="1.50" fill="#8a8a58" />
<rect x="444.10" y="130.16" width="0.78" height="1.50" fill="#8a8a58" />
<rect x="447.91" y="130.16" width="0.69" height="1.50" fill="#8a8a58" />
<rect x="452.30" y="130.16" width="1.49" height="1.50" fill="#8a8a58" />
<rect x="441.42" y="130.16" width="0.96" height="1.50" fill="#8a8a58" />
<rect x="440.00" y="139.87" width="15.60" height="3.10" fill="#c2c488" stroke="#c63a2a" stroke-width="1.1"/>
<rect x="450.46" y="140.72" width="0.88" height="1.50" fill="#8a8a58" />
<rect x="452.71" y="140.72" width="1.00" height="1.50" fill="#8a8a58" />
<rect x="443.27" y="140.72" width="1.06" height="1.50" fill="#8a8a58" />
<rect x="449.13" y="140.72" width="0.86" height="1.50" fill="#8a8a58" />
<rect x="449.29" y="140.72" width="1.28" height="1.50" fill="#8a8a58" />
<rect x="447.51" y="140.72" width="1.01" height="1.50" fill="#8a8a58" />
<rect x="451.65" y="140.72" width="1.18" height="1.50" fill="#8a8a58" />
<rect x="447.56" y="140.72" width="1.45" height="1.50" fill="#8a8a58" />
<rect x="443.19" y="140.72" width="1.28" height="1.50" fill="#8a8a58" />
<rect x="392.52" y="125.85" width="0.70" height="0.70" fill="#9a9a80" />
<rect x="400.42" y="114.76" width="0.70" height="0.70" fill="#9a9a80" />
<rect x="429.02" y="100.25" width="0.70" height="0.70" fill="#9a9a80" />
<rect x="377.88" y="125.11" width="0.70" height="0.70" fill="#9a9a80" />
<rect x="391.01" y="86.78" width="0.70" height="0.70" fill="#9a9a80" />
<rect x="429.81" y="114.37" width="0.70" height="0.70" fill="#9a9a80" />
<rect x="423.68" y="103.01" width="0.70" height="0.70" fill="#9a9a80" />
<rect x="370.90" y="154.80" width="118.70" height="3.30" fill="#f1f43e" />
<rect x="434.00" y="154.80" width="30.80" height="3.30" fill="#212021" />
<line x1="370.90" y1="154.25" x2="489.60" y2="154.25" stroke="#2a2a2a" stroke-width="1.1" />
<rect x="370.90" y="82.60" width="118.70" height="76.00" fill="none" stroke="#333" stroke-width="1.3"/>
<text x="413.50" y="90.57" font-size="6.9" font-weight="normal" text-anchor="end" fill="#111" stroke="#111" stroke-width="0.12">1000 lux</text>
<line x1="414.30" y1="88.20" x2="431.70" y2="88.20" stroke="#ee2a24" stroke-width="2.0" />
<path d="M431.20,86.60 L433.80,88.20 L431.20,89.80 Z" fill="#ee2a24"/>
<text x="413.50" y="101.97" font-size="6.9" font-weight="normal" text-anchor="end" fill="#111" stroke="#111" stroke-width="0.12">500 lux</text>
<line x1="414.30" y1="99.60" x2="431.70" y2="99.60" stroke="#ee2a24" stroke-width="2.0" />
<path d="M431.20,98.00 L433.80,99.60 L431.20,101.20 Z" fill="#ee2a24"/>
<text x="413.50" y="112.47" font-size="6.9" font-weight="normal" text-anchor="end" fill="#111" stroke="#111" stroke-width="0.12">250 lux</text>
<line x1="414.30" y1="110.10" x2="431.70" y2="110.10" stroke="#ee2a24" stroke-width="2.0" />
<path d="M431.20,108.50 L433.80,110.10 L431.20,111.70 Z" fill="#ee2a24"/>
<text x="413.50" y="122.37" font-size="6.9" font-weight="normal" text-anchor="end" fill="#111" stroke="#111" stroke-width="0.12">125 lux</text>
<line x1="414.30" y1="120.00" x2="431.70" y2="120.00" stroke="#ee2a24" stroke-width="2.0" />
<path d="M431.20,118.40 L433.80,120.00 L431.20,121.60 Z" fill="#ee2a24"/>
<text x="413.50" y="133.27" font-size="6.9" font-weight="normal" text-anchor="end" fill="#111" stroke="#111" stroke-width="0.12">65 lux</text>
<line x1="414.30" y1="130.90" x2="431.70" y2="130.90" stroke="#ee2a24" stroke-width="2.0" />
<path d="M431.20,129.30 L433.80,130.90 L431.20,132.50 Z" fill="#ee2a24"/>
<text x="413.50" y="143.97" font-size="6.9" font-weight="normal" text-anchor="end" fill="#111" stroke="#111" stroke-width="0.12">32 lux</text>
<line x1="414.30" y1="141.60" x2="431.70" y2="141.60" stroke="#ee2a24" stroke-width="2.0" />
<path d="M431.20,140.00 L433.80,141.60 L431.20,143.20 Z" fill="#ee2a24"/>
<line x1="425.40" y1="95.50" x2="431.50" y2="95.50" stroke="#1a1a1a" stroke-width="1.6" />
<path d="M431.00,93.60 L433.80,95.50 L431.00,97.40 Z" fill="#1a1a1a"/>
<line x1="425.40" y1="106.00" x2="431.50" y2="106.00" stroke="#1a1a1a" stroke-width="1.6" />
<path d="M431.00,104.10 L433.80,106.00 L431.00,107.90 Z" fill="#1a1a1a"/>
<line x1="425.40" y1="116.50" x2="431.50" y2="116.50" stroke="#1a1a1a" stroke-width="1.6" />
<path d="M431.00,114.60 L433.80,116.50 L431.00,118.40 Z" fill="#1a1a1a"/>
<line x1="425.40" y1="127.00" x2="431.50" y2="127.00" stroke="#1a1a1a" stroke-width="1.6" />
<path d="M431.00,125.10 L433.80,127.00 L431.00,128.90 Z" fill="#1a1a1a"/>
<line x1="425.40" y1="137.50" x2="431.50" y2="137.50" stroke="#1a1a1a" stroke-width="1.6" />
<path d="M431.00,135.60 L433.80,137.50 L431.00,139.40 Z" fill="#1a1a1a"/>
<text x="372.00" y="80.30" font-size="10.2" font-weight="bold" text-anchor="start" fill="#231f20"  stroke="#231f20" stroke-width="0.11">Mel.</text>
<text x="425.30" y="93.40" font-size="4.6" font-weight="bold" text-anchor="start" fill="#222"  stroke="#222" stroke-width="0.11">BL</text>
<line x1="425.30" y1="94.30" x2="430.00" y2="94.30" stroke="#222" stroke-width="0.7" />
<text x="415.50" y="97.60" font-size="5.6" font-weight="normal" text-anchor="start" fill="#333"  stroke="#333" stroke-width="0.22">LP</text>
<line x1="19.50" y1="81.00" x2="19.50" y2="153.50" stroke="#777" stroke-width="0.9" />
<path d="M17.90,153.00 L19.50,156.50 L21.10,153.00 Z" fill="#777"/>
<text x="11.80" y="117.20" font-size="10.3" font-weight="bold" text-anchor="middle" fill="#231f20" transform="rotate(-90 11.8 117.2)" dy="3.7" stroke="#231f20" stroke-width="0.11">Time (days)</text>
<text x="18.00" y="169.85" font-size="10.2" font-weight="normal" text-anchor="start" fill="#231f20"  stroke="#231f20" stroke-width="0.22">0:00</text>
<text x="77.00" y="169.85" font-size="10.2" font-weight="normal" text-anchor="start" fill="#231f20"  stroke="#231f20" stroke-width="0.22">13:00</text>
<text x="106.00" y="169.85" font-size="10.2" font-weight="normal" text-anchor="start" fill="#231f20"  stroke="#231f20" stroke-width="0.22">19:00</text>
<text x="35.50" y="181.32" font-size="10.4" font-weight="bold" text-anchor="start" fill="#231f20"  stroke="#231f20" stroke-width="0.11">Local Time (hours)</text>
<line x1="366.50" y1="82.00" x2="366.50" y2="155.30" stroke="#777" stroke-width="0.9" />
<path d="M364.90,154.80 L366.50,158.30 L368.10,154.80 Z" fill="#777"/>
<text x="357.50" y="118.00" font-size="10.3" font-weight="bold" text-anchor="middle" fill="#231f20" transform="rotate(-90 357.5 118.0)" dy="3.7" stroke="#231f20" stroke-width="0.11">Time (days)</text>
<text x="361.50" y="169.35" font-size="10.2" font-weight="normal" text-anchor="start" fill="#231f20"  stroke="#231f20" stroke-width="0.22">0:00</text>
<text x="420.50" y="169.35" font-size="10.2" font-weight="normal" text-anchor="start" fill="#231f20"  stroke="#231f20" stroke-width="0.22">13:00</text>
<text x="452.60" y="169.35" font-size="10.2" font-weight="normal" text-anchor="start" fill="#231f20"  stroke="#231f20" stroke-width="0.22">19:00</text>
<text x="381.60" y="180.62" font-size="10.4" font-weight="bold" text-anchor="start" fill="#231f20"  stroke="#231f20" stroke-width="0.11">Local Time (hours)</text>
<circle cx="196.50" cy="89.47" r="1.25" fill="#4259b9"/>
<circle cx="200.24" cy="89.47" r="1.25" fill="#4259b9"/>
<circle cx="203.98" cy="89.47" r="1.25" fill="#4259b9"/>
<circle cx="207.72" cy="89.47" r="1.25" fill="#4259b9"/>
<circle cx="211.46" cy="89.47" r="1.25" fill="#4259b9"/>
<circle cx="215.20" cy="89.47" r="1.25" fill="#4259b9"/>
<circle cx="218.94" cy="89.47" r="1.25" fill="#4259b9"/>
<circle cx="222.68" cy="89.47" r="1.25" fill="#4259b9"/>
<circle cx="226.42" cy="89.47" r="1.25" fill="#4259b9"/>
<circle cx="230.16" cy="89.47" r="1.25" fill="#4259b9"/>
<circle cx="233.90" cy="89.47" r="1.25" fill="#4259b9"/>
<circle cx="237.64" cy="89.47" r="1.25" fill="#4259b9"/>
<circle cx="241.38" cy="89.47" r="1.25" fill="#4259b9"/>
<circle cx="245.12" cy="89.47" r="1.25" fill="#4259b9"/>
<circle cx="248.86" cy="89.47" r="1.25" fill="#4259b9"/>
<circle cx="252.60" cy="89.47" r="1.25" fill="#4259b9"/>
<circle cx="256.34" cy="89.47" r="1.25" fill="#4259b9"/>
<circle cx="260.08" cy="89.47" r="1.25" fill="#4259b9"/>
<circle cx="263.82" cy="89.47" r="1.25" fill="#4259b9"/>
<circle cx="267.56" cy="89.47" r="1.25" fill="#4259b9"/>
<circle cx="271.30" cy="89.47" r="1.25" fill="#4259b9"/>
<circle cx="275.04" cy="89.47" r="1.25" fill="#4259b9"/>
<circle cx="278.78" cy="89.47" r="1.25" fill="#4259b9"/>
<circle cx="282.52" cy="89.47" r="1.25" fill="#4259b9"/>
<circle cx="286.26" cy="89.47" r="1.25" fill="#4259b9"/>
<circle cx="290.00" cy="89.47" r="1.25" fill="#4259b9"/>
<circle cx="293.74" cy="89.47" r="1.25" fill="#4259b9"/>
<circle cx="297.48" cy="89.47" r="1.25" fill="#4259b9"/>
<circle cx="301.22" cy="89.47" r="1.25" fill="#4259b9"/>
<circle cx="304.96" cy="89.47" r="1.25" fill="#4259b9"/>
<circle cx="308.70" cy="89.47" r="1.25" fill="#4259b9"/>
<circle cx="312.44" cy="89.47" r="1.25" fill="#4259b9"/>
<circle cx="316.18" cy="89.47" r="1.25" fill="#4259b9"/>
<line x1="195.00" y1="76.10" x2="195.00" y2="156.90" stroke="#231f20" stroke-width="1.6" />
<line x1="192.00" y1="156.30" x2="316.50" y2="156.30" stroke="#231f20" stroke-width="1.6" />
<line x1="192.50" y1="156.30" x2="195.00" y2="156.30" stroke="#231f20" stroke-width="1.1" />
<text x="188.00" y="162.32" font-size="10.4" font-weight="normal" text-anchor="end" fill="#333"  stroke="#333" stroke-width="0.22">0</text>
<line x1="192.50" y1="142.93" x2="195.00" y2="142.93" stroke="#231f20" stroke-width="1.1" />
<text x="189.80" y="147.36" font-size="10.4" font-weight="normal" text-anchor="end" fill="#333"  stroke="#333" stroke-width="0.22">20</text>
<line x1="192.50" y1="129.57" x2="195.00" y2="129.57" stroke="#231f20" stroke-width="1.1" />
<text x="189.80" y="133.99" font-size="10.4" font-weight="normal" text-anchor="end" fill="#333"  stroke="#333" stroke-width="0.22">40</text>
<line x1="192.50" y1="116.20" x2="195.00" y2="116.20" stroke="#231f20" stroke-width="1.1" />
<text x="189.80" y="120.62" font-size="10.4" font-weight="normal" text-anchor="end" fill="#333"  stroke="#333" stroke-width="0.22">60</text>
<line x1="192.50" y1="102.83" x2="195.00" y2="102.83" stroke="#231f20" stroke-width="1.1" />
<text x="189.80" y="107.26" font-size="10.4" font-weight="normal" text-anchor="end" fill="#333"  stroke="#333" stroke-width="0.22">80</text>
<line x1="192.50" y1="89.47" x2="195.00" y2="89.47" stroke="#231f20" stroke-width="1.1" />
<text x="189.80" y="93.89" font-size="10.4" font-weight="normal" text-anchor="end" fill="#333"  stroke="#333" stroke-width="0.22">100</text>
<line x1="192.50" y1="76.10" x2="195.00" y2="76.10" stroke="#231f20" stroke-width="1.1" />
<text x="189.80" y="80.52" font-size="10.4" font-weight="normal" text-anchor="end" fill="#333"  stroke="#333" stroke-width="0.22">120</text>
<line x1="207.80" y1="156.30" x2="207.80" y2="159.50" stroke="#231f20" stroke-width="1.1" />
<line x1="226.80" y1="156.30" x2="226.80" y2="159.50" stroke="#231f20" stroke-width="1.1" />
<line x1="246.00" y1="156.30" x2="246.00" y2="159.50" stroke="#231f20" stroke-width="1.1" />
<line x1="265.20" y1="156.30" x2="265.20" y2="159.50" stroke="#231f20" stroke-width="1.1" />
<line x1="284.40" y1="156.30" x2="284.40" y2="159.50" stroke="#231f20" stroke-width="1.1" />
<line x1="303.60" y1="156.30" x2="303.60" y2="159.50" stroke="#231f20" stroke-width="1.1" />
<polyline points="207.80,140.50 226.80,117.30 246.00,86.60 265.20,98.00 284.40,98.40 303.60,98.00" fill="none" stroke="#ec3b28" stroke-width="1.5"/>
<line x1="207.80" y1="137.70" x2="207.80" y2="143.40" stroke="#555" stroke-width="0.9" />
<line x1="205.80" y1="137.70" x2="209.80" y2="137.70" stroke="#555" stroke-width="0.9" />
<line x1="205.80" y1="143.40" x2="209.80" y2="143.40" stroke="#555" stroke-width="0.9" />
<line x1="226.80" y1="112.40" x2="226.80" y2="122.00" stroke="#555" stroke-width="0.9" />
<line x1="224.80" y1="112.40" x2="228.80" y2="112.40" stroke="#555" stroke-width="0.9" />
<line x1="224.80" y1="122.00" x2="228.80" y2="122.00" stroke="#555" stroke-width="0.9" />
<line x1="246.00" y1="80.50" x2="246.00" y2="92.20" stroke="#555" stroke-width="0.9" />
<line x1="244.00" y1="80.50" x2="248.00" y2="80.50" stroke="#555" stroke-width="0.9" />
<line x1="244.00" y1="92.20" x2="248.00" y2="92.20" stroke="#555" stroke-width="0.9" />
<line x1="265.20" y1="91.40" x2="265.20" y2="105.00" stroke="#555" stroke-width="0.9" />
<line x1="263.20" y1="91.40" x2="267.20" y2="91.40" stroke="#555" stroke-width="0.9" />
<line x1="263.20" y1="105.00" x2="267.20" y2="105.00" stroke="#555" stroke-width="0.9" />
<line x1="284.40" y1="95.40" x2="284.40" y2="101.50" stroke="#555" stroke-width="0.9" />
<line x1="282.40" y1="95.40" x2="286.40" y2="95.40" stroke="#555" stroke-width="0.9" />
<line x1="282.40" y1="101.50" x2="286.40" y2="101.50" stroke="#555" stroke-width="0.9" />
<line x1="303.60" y1="95.00" x2="303.60" y2="101.50" stroke="#555" stroke-width="0.9" />
<line x1="301.60" y1="95.00" x2="305.60" y2="95.00" stroke="#555" stroke-width="0.9" />
<line x1="301.60" y1="101.50" x2="305.60" y2="101.50" stroke="#555" stroke-width="0.9" />
<circle cx="207.80" cy="140.50" r="1.7" fill="#000"/>
<circle cx="226.80" cy="117.30" r="1.7" fill="#000"/>
<circle cx="246.00" cy="86.60" r="1.7" fill="#000"/>
<circle cx="265.20" cy="98.00" r="1.7" fill="#000"/>
<circle cx="284.40" cy="98.40" r="1.7" fill="#000"/>
<circle cx="303.60" cy="98.00" r="1.7" fill="#000"/>
<text x="206.60" y="169.92" font-size="10.4" font-weight="normal" text-anchor="middle" fill="#333"  stroke="#333" stroke-width="0.22">1.0</text>
<text x="245.30" y="169.92" font-size="10.4" font-weight="normal" text-anchor="middle" fill="#333"  stroke="#333" stroke-width="0.22">0.25</text>
<text x="284.40" y="169.92" font-size="10.4" font-weight="normal" text-anchor="middle" fill="#333"  stroke="#333" stroke-width="0.22">0.06</text>
<text x="309.90" y="169.92" font-size="10.4" font-weight="normal" text-anchor="start" fill="#333"  stroke="#333" stroke-width="0.22">(x10<tspan font-size="5.6" dy="-3.3">3</tspan><tspan dy="3.3">)</tspan></text>
<text x="256.00" y="183.49" font-size="10.3" font-weight="bold" text-anchor="middle" fill="#231f20"  stroke="#231f20" stroke-width="0.11">Illumination (lux)</text>
<text x="0" y="0" font-size="10.2" font-weight="bold" text-anchor="middle" fill="#231f20" transform="translate(159.60 118.00) rotate(-90)">Running wheel Activity</text>
<text x="0" y="0" font-size="10.2" font-weight="bold" text-anchor="middle" fill="#231f20" transform="translate(172.80 118.00) rotate(-90)">(% of baseline)</text>
<circle cx="545.20" cy="91.25" r="1.25" fill="#4259b9"/>
<circle cx="548.94" cy="91.25" r="1.25" fill="#4259b9"/>
<circle cx="552.68" cy="91.25" r="1.25" fill="#4259b9"/>
<circle cx="556.42" cy="91.25" r="1.25" fill="#4259b9"/>
<circle cx="560.16" cy="91.25" r="1.25" fill="#4259b9"/>
<circle cx="563.90" cy="91.25" r="1.25" fill="#4259b9"/>
<circle cx="567.64" cy="91.25" r="1.25" fill="#4259b9"/>
<circle cx="571.38" cy="91.25" r="1.25" fill="#4259b9"/>
<circle cx="575.12" cy="91.25" r="1.25" fill="#4259b9"/>
<circle cx="578.86" cy="91.25" r="1.25" fill="#4259b9"/>
<circle cx="582.60" cy="91.25" r="1.25" fill="#4259b9"/>
<circle cx="586.34" cy="91.25" r="1.25" fill="#4259b9"/>
<circle cx="590.08" cy="91.25" r="1.25" fill="#4259b9"/>
<circle cx="593.82" cy="91.25" r="1.25" fill="#4259b9"/>
<circle cx="597.56" cy="91.25" r="1.25" fill="#4259b9"/>
<circle cx="601.30" cy="91.25" r="1.25" fill="#4259b9"/>
<circle cx="605.04" cy="91.25" r="1.25" fill="#4259b9"/>
<circle cx="608.78" cy="91.25" r="1.25" fill="#4259b9"/>
<circle cx="612.52" cy="91.25" r="1.25" fill="#4259b9"/>
<circle cx="616.26" cy="91.25" r="1.25" fill="#4259b9"/>
<circle cx="620.00" cy="91.25" r="1.25" fill="#4259b9"/>
<circle cx="623.74" cy="91.25" r="1.25" fill="#4259b9"/>
<circle cx="627.48" cy="91.25" r="1.25" fill="#4259b9"/>
<circle cx="631.22" cy="91.25" r="1.25" fill="#4259b9"/>
<circle cx="634.96" cy="91.25" r="1.25" fill="#4259b9"/>
<circle cx="638.70" cy="91.25" r="1.25" fill="#4259b9"/>
<circle cx="642.44" cy="91.25" r="1.25" fill="#4259b9"/>
<circle cx="646.18" cy="91.25" r="1.25" fill="#4259b9"/>
<circle cx="649.92" cy="91.25" r="1.25" fill="#4259b9"/>
<circle cx="653.66" cy="91.25" r="1.25" fill="#4259b9"/>
<circle cx="657.40" cy="91.25" r="1.25" fill="#4259b9"/>
<circle cx="661.14" cy="91.25" r="1.25" fill="#4259b9"/>
<circle cx="664.88" cy="91.25" r="1.25" fill="#4259b9"/>
<line x1="543.70" y1="77.80" x2="543.70" y2="159.10" stroke="#231f20" stroke-width="1.6" />
<line x1="540.70" y1="158.50" x2="664.90" y2="158.50" stroke="#231f20" stroke-width="1.6" />
<line x1="541.20" y1="158.50" x2="543.70" y2="158.50" stroke="#231f20" stroke-width="1.1" />
<text x="536.30" y="163.32" font-size="10.4" font-weight="normal" text-anchor="end" fill="#333"  stroke="#333" stroke-width="0.22">0</text>
<line x1="541.20" y1="145.05" x2="543.70" y2="145.05" stroke="#231f20" stroke-width="1.1" />
<text x="538.50" y="149.47" font-size="10.4" font-weight="normal" text-anchor="end" fill="#333"  stroke="#333" stroke-width="0.22">20</text>
<line x1="541.20" y1="131.60" x2="543.70" y2="131.60" stroke="#231f20" stroke-width="1.1" />
<text x="538.50" y="136.02" font-size="10.4" font-weight="normal" text-anchor="end" fill="#333"  stroke="#333" stroke-width="0.22">40</text>
<line x1="541.20" y1="118.15" x2="543.70" y2="118.15" stroke="#231f20" stroke-width="1.1" />
<text x="538.50" y="122.57" font-size="10.4" font-weight="normal" text-anchor="end" fill="#333"  stroke="#333" stroke-width="0.22">60</text>
<line x1="541.20" y1="104.70" x2="543.70" y2="104.70" stroke="#231f20" stroke-width="1.1" />
<text x="538.50" y="109.12" font-size="10.4" font-weight="normal" text-anchor="end" fill="#333"  stroke="#333" stroke-width="0.22">80</text>
<line x1="541.20" y1="91.25" x2="543.70" y2="91.25" stroke="#231f20" stroke-width="1.1" />
<text x="538.50" y="95.67" font-size="10.4" font-weight="normal" text-anchor="end" fill="#333"  stroke="#333" stroke-width="0.22">100</text>
<line x1="541.20" y1="77.80" x2="543.70" y2="77.80" stroke="#231f20" stroke-width="1.1" />
<text x="538.50" y="82.22" font-size="10.4" font-weight="normal" text-anchor="end" fill="#333"  stroke="#333" stroke-width="0.22">120</text>
<line x1="556.20" y1="158.50" x2="556.20" y2="161.70" stroke="#231f20" stroke-width="1.1" />
<line x1="575.60" y1="158.50" x2="575.60" y2="161.70" stroke="#231f20" stroke-width="1.1" />
<line x1="594.80" y1="158.50" x2="594.80" y2="161.70" stroke="#231f20" stroke-width="1.1" />
<line x1="613.90" y1="158.50" x2="613.90" y2="161.70" stroke="#231f20" stroke-width="1.1" />
<line x1="633.00" y1="158.50" x2="633.00" y2="161.70" stroke="#231f20" stroke-width="1.1" />
<line x1="652.20" y1="158.50" x2="652.20" y2="161.70" stroke="#231f20" stroke-width="1.1" />
<polyline points="556.20,153.70 575.60,148.80 594.80,146.70 613.90,146.10 633.00,129.70 652.20,112.10" fill="none" stroke="#ec3b28" stroke-width="1.5"/>
<line x1="556.20" y1="153.70" x2="556.20" y2="153.70" stroke="#555" stroke-width="0.9" />
<line x1="554.20" y1="153.70" x2="558.20" y2="153.70" stroke="#555" stroke-width="0.9" />
<line x1="554.20" y1="153.70" x2="558.20" y2="153.70" stroke="#555" stroke-width="0.9" />
<line x1="575.60" y1="143.90" x2="575.60" y2="153.20" stroke="#555" stroke-width="0.9" />
<line x1="573.60" y1="143.90" x2="577.60" y2="143.90" stroke="#555" stroke-width="0.9" />
<line x1="573.60" y1="153.20" x2="577.60" y2="153.20" stroke="#555" stroke-width="0.9" />
<line x1="594.80" y1="142.80" x2="594.80" y2="150.20" stroke="#555" stroke-width="0.9" />
<line x1="592.80" y1="142.80" x2="596.80" y2="142.80" stroke="#555" stroke-width="0.9" />
<line x1="592.80" y1="150.20" x2="596.80" y2="150.20" stroke="#555" stroke-width="0.9" />
<line x1="613.90" y1="142.80" x2="613.90" y2="149.10" stroke="#555" stroke-width="0.9" />
<line x1="611.90" y1="142.80" x2="615.90" y2="142.80" stroke="#555" stroke-width="0.9" />
<line x1="611.90" y1="149.10" x2="615.90" y2="149.10" stroke="#555" stroke-width="0.9" />
<line x1="633.00" y1="117.40" x2="633.00" y2="141.80" stroke="#555" stroke-width="0.9" />
<line x1="631.00" y1="117.40" x2="635.00" y2="117.40" stroke="#555" stroke-width="0.9" />
<line x1="631.00" y1="141.80" x2="635.00" y2="141.80" stroke="#555" stroke-width="0.9" />
<line x1="652.20" y1="101.30" x2="652.20" y2="122.30" stroke="#555" stroke-width="0.9" />
<line x1="650.20" y1="101.30" x2="654.20" y2="101.30" stroke="#555" stroke-width="0.9" />
<line x1="650.20" y1="122.30" x2="654.20" y2="122.30" stroke="#555" stroke-width="0.9" />
<rect x="554.60" y="152.10" width="3.20" height="3.20" fill="#000" />
<circle cx="575.60" cy="148.80" r="1.7" fill="#000"/>
<circle cx="594.80" cy="146.70" r="1.7" fill="#000"/>
<circle cx="613.90" cy="146.10" r="1.7" fill="#000"/>
<circle cx="633.00" cy="129.70" r="1.7" fill="#000"/>
<circle cx="652.20" cy="112.10" r="1.7" fill="#000"/>
<text x="556.30" y="171.72" font-size="10.4" font-weight="normal" text-anchor="middle" fill="#333"  stroke="#333" stroke-width="0.22">1.0</text>
<text x="594.50" y="171.72" font-size="10.4" font-weight="normal" text-anchor="middle" fill="#333"  stroke="#333" stroke-width="0.22">0.25</text>
<text x="633.20" y="171.72" font-size="10.4" font-weight="normal" text-anchor="middle" fill="#333"  stroke="#333" stroke-width="0.22">0.06</text>
<text x="656.50" y="171.72" font-size="10.4" font-weight="normal" text-anchor="start" fill="#333"  stroke="#333" stroke-width="0.22">(x10<tspan font-size="5.6" dy="-3.3">3</tspan><tspan dy="3.3">)</tspan></text>
<text x="602.40" y="182.99" font-size="10.3" font-weight="bold" text-anchor="middle" fill="#231f20"  stroke="#231f20" stroke-width="0.11">Illumination (lux)</text>
<text x="0" y="0" font-size="10.2" font-weight="bold" text-anchor="middle" fill="#231f20" transform="translate(508.90 122.00) rotate(-90)">Running wheel Activity</text>
<text x="0" y="0" font-size="10.2" font-weight="bold" text-anchor="middle" fill="#231f20" transform="translate(521.40 122.00) rotate(-90)">(% of baseline)</text>
<line x1="26.70" y1="228.70" x2="159.60" y2="228.70" stroke="#2b2b2b" stroke-width="1.25" />
<line x1="26.70" y1="226.80" x2="26.70" y2="230.60" stroke="#2b2b2b" stroke-width="1.25" />
<line x1="117.50" y1="226.80" x2="117.50" y2="230.60" stroke="#2b2b2b" stroke-width="1.25" />
<line x1="159.60" y1="226.80" x2="159.60" y2="230.60" stroke="#2b2b2b" stroke-width="1.25" />
<text x="74.60" y="225.59" font-size="10.6" font-weight="normal" text-anchor="middle" fill="#231f20"  stroke="#231f20" stroke-width="0.22">18</text>
<text x="138.00" y="225.69" font-size="10.6" font-weight="normal" text-anchor="middle" fill="#231f20"  stroke="#231f20" stroke-width="0.22">6</text>
<rect x="26.70" y="233.10" width="90.80" height="8.90" fill="#eef03c" />
<rect x="117.50" y="233.10" width="6.60" height="8.90" fill="#212021" />
<rect x="124.10" y="233.10" width="21.80" height="8.90" fill="#a6abad" />
<rect x="145.90" y="233.10" width="13.70" height="8.90" fill="#212021" />
<text x="29.60" y="241.46" font-size="10.5" font-weight="normal" text-anchor="start" fill="#231f20"  stroke="#231f20" stroke-width="0.22">Baseline</text>
<text x="135.30" y="241.18" font-size="10" font-weight="normal" text-anchor="middle" fill="#231f20"  stroke="#231f20" stroke-width="0.22">BL</text>
<rect x="26.70" y="246.20" width="90.80" height="8.50" fill="#eef03c" />
<rect x="117.50" y="246.20" width="6.60" height="8.50" fill="#212021" />
<rect x="124.10" y="246.20" width="21.80" height="8.50" fill="#eef03c" />
<rect x="145.90" y="246.20" width="13.70" height="8.50" fill="#212021" />
<text x="29.40" y="254.46" font-size="10.5" font-weight="normal" text-anchor="start" fill="#231f20"  stroke="#231f20" stroke-width="0.22">Cond. #1/2</text>
<text x="135.30" y="254.08" font-size="10" font-weight="normal" text-anchor="middle" fill="#231f20"  stroke="#231f20" stroke-width="0.22">LP</text>
<line x1="117.50" y1="258.70" x2="159.60" y2="258.70" stroke="#2b2b2b" stroke-width="1.25" />
<line x1="117.50" y1="256.80" x2="117.50" y2="260.60" stroke="#2b2b2b" stroke-width="1.25" />
<line x1="124.20" y1="256.80" x2="124.20" y2="260.60" stroke="#2b2b2b" stroke-width="1.25" />
<line x1="145.90" y1="256.80" x2="145.90" y2="260.60" stroke="#2b2b2b" stroke-width="1.25" />
<line x1="159.60" y1="256.80" x2="159.60" y2="260.60" stroke="#2b2b2b" stroke-width="1.25" />
<text x="120.80" y="269.06" font-size="10.5" font-weight="normal" text-anchor="middle" fill="#231f20"  stroke="#231f20" stroke-width="0.22">1</text>
<text x="135.30" y="269.06" font-size="10.5" font-weight="normal" text-anchor="middle" fill="#231f20"  stroke="#231f20" stroke-width="0.22">3</text>
<text x="151.60" y="269.06" font-size="10.5" font-weight="normal" text-anchor="middle" fill="#231f20"  stroke="#231f20" stroke-width="0.22">2</text>
<line x1="120.90" y1="269.80" x2="120.90" y2="273.20" stroke="#333" stroke-width="1" />
<text x="99.30" y="282.19" font-size="10.6" font-weight="normal" text-anchor="start" fill="#231f20"  stroke="#231f20" stroke-width="0.22">Veh./ Mel.</text>
<rect x="26.50" y="302.10" width="90.90" height="8.70" fill="#eef03c" />
<rect x="117.40" y="302.10" width="6.50" height="8.70" fill="#212021" />
<rect x="123.90" y="302.10" width="21.80" height="8.70" fill="#a6abad" />
<rect x="145.70" y="302.10" width="13.70" height="8.70" fill="#212021" />
<text x="29.60" y="310.36" font-size="10.5" font-weight="normal" text-anchor="start" fill="#231f20"  stroke="#231f20" stroke-width="0.22">Baseline</text>
<text x="135.20" y="310.08" font-size="10" font-weight="normal" text-anchor="middle" fill="#231f20"  stroke="#231f20" stroke-width="0.22">BL</text>
<rect x="26.50" y="313.10" width="90.90" height="8.80" fill="#eef03c" />
<rect x="117.40" y="313.10" width="6.50" height="8.80" fill="#212021" />
<rect x="123.90" y="313.10" width="21.80" height="8.80" fill="#eef03c" />
<rect x="145.70" y="313.10" width="13.70" height="8.80" fill="#212021" />
<text x="29.40" y="321.86" font-size="10.5" font-weight="normal" text-anchor="start" fill="#231f20"  stroke="#231f20" stroke-width="0.22">Cond. #3</text>
<text x="135.20" y="321.08" font-size="10" font-weight="normal" text-anchor="middle" fill="#231f20"  stroke="#231f20" stroke-width="0.22">LP</text>
<line x1="117.40" y1="325.70" x2="159.40" y2="325.70" stroke="#2b2b2b" stroke-width="1.25" />
<line x1="117.40" y1="323.80" x2="117.40" y2="327.60" stroke="#2b2b2b" stroke-width="1.25" />
<line x1="124.20" y1="323.80" x2="124.20" y2="327.60" stroke="#2b2b2b" stroke-width="1.25" />
<line x1="145.70" y1="323.80" x2="145.70" y2="327.60" stroke="#2b2b2b" stroke-width="1.25" />
<line x1="159.40" y1="323.80" x2="159.40" y2="327.60" stroke="#2b2b2b" stroke-width="1.25" />
<text x="120.80" y="337.76" font-size="10.5" font-weight="normal" text-anchor="middle" fill="#231f20"  stroke="#231f20" stroke-width="0.22">1</text>
<text x="135.30" y="337.76" font-size="10.5" font-weight="normal" text-anchor="middle" fill="#231f20"  stroke="#231f20" stroke-width="0.22">3</text>
<text x="153.20" y="337.76" font-size="10.5" font-weight="normal" text-anchor="middle" fill="#231f20"  stroke="#231f20" stroke-width="0.22">2</text>
<line x1="116.80" y1="322.40" x2="54.60" y2="344.60" stroke="#333" stroke-width="1.0" stroke-dasharray="1.1 2.2"/>
<line x1="159.40" y1="327.60" x2="159.40" y2="344.80" stroke="#333" stroke-width="1.0" stroke-dasharray="1.1 2.2"/>
<rect x="54.40" y="345.10" width="16.20" height="8.30" fill="#212021" />
<rect x="70.60" y="345.10" width="54.30" height="8.30" fill="#eef03c" />
<rect x="124.90" y="345.10" width="34.60" height="8.30" fill="#212021" />
<text x="100.50" y="352.78" font-size="10" font-weight="normal" text-anchor="middle" fill="#231f20"  stroke="#231f20" stroke-width="0.22">LP</text>
<line x1="54.40" y1="359.00" x2="159.50" y2="359.00" stroke="#2b2b2b" stroke-width="1.25" />
<line x1="54.40" y1="357.10" x2="54.40" y2="360.90" stroke="#2b2b2b" stroke-width="1.25" />
<line x1="70.60" y1="357.10" x2="70.60" y2="360.90" stroke="#2b2b2b" stroke-width="1.25" />
<line x1="124.90" y1="357.10" x2="124.90" y2="360.90" stroke="#2b2b2b" stroke-width="1.25" />
<line x1="159.50" y1="357.10" x2="159.50" y2="360.90" stroke="#2b2b2b" stroke-width="1.25" />
<line x1="62.40" y1="359.00" x2="62.40" y2="375.00" stroke="#333" stroke-width="1.1" />
<text x="41.10" y="372.04" font-size="9.9" font-weight="normal" text-anchor="start" fill="#231f20"  stroke="#231f20" stroke-width="0.22">Luz.</text>
<text x="66.40" y="372.04" font-size="9.9" font-weight="normal" text-anchor="start" fill="#231f20"  stroke="#231f20" stroke-width="0.22">LP</text>
<text x="98.10" y="372.04" font-size="9.9" font-weight="normal" text-anchor="middle" fill="#231f20"  stroke="#231f20" stroke-width="0.22">3</text>
<text x="143.40" y="372.04" font-size="9.9" font-weight="normal" text-anchor="middle" fill="#231f20"  stroke="#231f20" stroke-width="0.22">2</text>
<text x="42.30" y="386.59" font-size="10.6" font-weight="normal" text-anchor="start" fill="#231f20"  stroke="#231f20" stroke-width="0.22">Veh./Mel.<tspan font-weight="bold">(hours)</tspan></text>
<line x1="229.00" y1="277.10" x2="229.00" y2="263.30" stroke="#231f20" stroke-width="1.6" />
<line x1="223.25" y1="263.30" x2="234.75" y2="263.30" stroke="#231f20" stroke-width="1.6" />
<rect x="218.00" y="277.10" width="22.00" height="102.10" fill="#ffffff" stroke="#231f20" stroke-width="1.6"/>
<line x1="261.35" y1="345.30" x2="261.35" y2="331.50" stroke="#231f20" stroke-width="1.6" />
<line x1="255.60" y1="331.50" x2="267.10" y2="331.50" stroke="#231f20" stroke-width="1.6" />
<rect x="250.20" y="345.30" width="22.30" height="33.90" fill="#8d8d8d" stroke="#231f20" stroke-width="1.6"/>
<line x1="294.50" y1="283.30" x2="294.50" y2="256.70" stroke="#231f20" stroke-width="1.6" />
<line x1="288.75" y1="256.70" x2="300.25" y2="256.70" stroke="#231f20" stroke-width="1.6" />
<rect x="283.30" y="283.30" width="22.40" height="95.90" fill="#212021" stroke="#231f20" stroke-width="1.6"/>
<line x1="206.85" y1="222.40" x2="206.85" y2="379.20" stroke="#231f20" stroke-width="1.7" />
<line x1="203.40" y1="379.20" x2="316.50" y2="379.20" stroke="#231f20" stroke-width="1.7" />
<line x1="204.45" y1="379.20" x2="206.85" y2="379.20" stroke="#231f20" stroke-width="1.2" />
<text x="203.65" y="383.15" font-size="10.2" font-weight="normal" text-anchor="end" fill="#333"  stroke="#333" stroke-width="0.22">0</text>
<line x1="204.45" y1="340.20" x2="206.85" y2="340.20" stroke="#231f20" stroke-width="1.2" />
<text x="204.95" y="344.05" font-size="10.2" font-weight="normal" text-anchor="end" fill="#333"  stroke="#333" stroke-width="0.22">50</text>
<line x1="204.45" y1="301.20" x2="206.85" y2="301.20" stroke="#231f20" stroke-width="1.2" />
<text x="204.95" y="305.45" font-size="10.2" font-weight="normal" text-anchor="end" fill="#333"  stroke="#333" stroke-width="0.22">100</text>
<line x1="204.45" y1="262.20" x2="206.85" y2="262.20" stroke="#231f20" stroke-width="1.2" />
<text x="204.95" y="264.85" font-size="10.2" font-weight="normal" text-anchor="end" fill="#333"  stroke="#333" stroke-width="0.22">150</text>
<line x1="204.45" y1="223.20" x2="206.85" y2="223.20" stroke="#231f20" stroke-width="1.2" />
<text x="204.95" y="227.65" font-size="10.2" font-weight="normal" text-anchor="end" fill="#333"  stroke="#333" stroke-width="0.22">200</text>
<line x1="229.00" y1="379.20" x2="229.00" y2="382.80" stroke="#231f20" stroke-width="1.3" />
<line x1="261.35" y1="379.20" x2="261.35" y2="382.80" stroke="#231f20" stroke-width="1.3" />
<line x1="294.50" y1="379.20" x2="294.50" y2="382.80" stroke="#231f20" stroke-width="1.3" />
<polyline points="228.3,255.1 228.3,244.5 258.6,244.5 258.6,325.9" fill="none" stroke="#231f20" stroke-width="1.6"/>
<polyline points="264.8,325.9 264.8,244.5 293.9,244.5 293.9,250.3" fill="none" stroke="#231f20" stroke-width="1.6"/>
<circle cx="208.35" cy="301.20" r="1.25" fill="#4259b9"/>
<circle cx="212.09" cy="301.20" r="1.25" fill="#4259b9"/>
<circle cx="215.83" cy="301.20" r="1.25" fill="#4259b9"/>
<circle cx="219.57" cy="301.20" r="1.25" fill="#4259b9"/>
<circle cx="223.31" cy="301.20" r="1.25" fill="#4259b9"/>
<circle cx="227.05" cy="301.20" r="1.25" fill="#4259b9"/>
<circle cx="230.79" cy="301.20" r="1.25" fill="#4259b9"/>
<circle cx="234.53" cy="301.20" r="1.25" fill="#4259b9"/>
<circle cx="238.27" cy="301.20" r="1.25" fill="#4259b9"/>
<circle cx="242.01" cy="301.20" r="1.25" fill="#4259b9"/>
<circle cx="245.75" cy="301.20" r="1.25" fill="#4259b9"/>
<circle cx="249.49" cy="301.20" r="1.25" fill="#4259b9"/>
<circle cx="253.23" cy="301.20" r="1.25" fill="#4259b9"/>
<circle cx="256.97" cy="301.20" r="1.25" fill="#4259b9"/>
<circle cx="260.71" cy="301.20" r="1.25" fill="#4259b9"/>
<circle cx="264.45" cy="301.20" r="1.25" fill="#4259b9"/>
<circle cx="268.19" cy="301.20" r="1.25" fill="#4259b9"/>
<circle cx="271.93" cy="301.20" r="1.25" fill="#4259b9"/>
<circle cx="275.67" cy="301.20" r="1.25" fill="#4259b9"/>
<circle cx="279.41" cy="301.20" r="1.25" fill="#4259b9"/>
<circle cx="283.15" cy="301.20" r="1.25" fill="#4259b9"/>
<circle cx="286.89" cy="301.20" r="1.25" fill="#4259b9"/>
<circle cx="290.63" cy="301.20" r="1.25" fill="#4259b9"/>
<circle cx="294.37" cy="301.20" r="1.25" fill="#4259b9"/>
<circle cx="298.11" cy="301.20" r="1.25" fill="#4259b9"/>
<circle cx="301.85" cy="301.20" r="1.25" fill="#4259b9"/>
<circle cx="305.59" cy="301.20" r="1.25" fill="#4259b9"/>
<circle cx="309.33" cy="301.20" r="1.25" fill="#4259b9"/>
<circle cx="313.07" cy="301.20" r="1.25" fill="#4259b9"/>
<text x="244.90" y="241.36" font-size="10.5" font-weight="normal" text-anchor="middle" fill="#231f20"  stroke="#231f20" stroke-width="0.22">*</text>
<text x="279.00" y="241.36" font-size="10.5" font-weight="normal" text-anchor="middle" fill="#231f20"  stroke="#231f20" stroke-width="0.22">*</text>
<text x="229.20" y="362.96" font-size="8.0" font-weight="normal" text-anchor="middle" fill="#231f20"  stroke="#231f20" stroke-width="0.22">Cond.</text>
<text x="229.00" y="372.46" font-size="8.0" font-weight="normal" text-anchor="middle" fill="#231f20"  stroke="#231f20" stroke-width="0.22">#1</text>
<text x="261.55" y="362.96" font-size="8.0" font-weight="normal" text-anchor="middle" fill="#222"  stroke="#222" stroke-width="0.22">Cond.</text>
<text x="261.35" y="372.46" font-size="8.0" font-weight="normal" text-anchor="middle" fill="#222"  stroke="#222" stroke-width="0.22">#2</text>
<text x="294.70" y="362.96" font-size="8.0" font-weight="normal" text-anchor="middle" fill="#ffffff"  stroke="#ffffff" stroke-width="0.22">Cond.</text>
<text x="294.50" y="372.46" font-size="8.0" font-weight="normal" text-anchor="middle" fill="#ffffff"  stroke="#ffffff" stroke-width="0.22">#3</text>
<text x="230.70" y="393.49" font-size="10.3" font-weight="normal" text-anchor="middle" fill="#333"  stroke="#333" stroke-width="0.22">Veh.</text>
<text x="261.00" y="393.49" font-size="10.3" font-weight="normal" text-anchor="middle" fill="#333"  stroke="#333" stroke-width="0.22">Mel.</text>
<text x="299.70" y="393.49" font-size="10.3" font-weight="normal" text-anchor="middle" fill="#333"  stroke="#333" stroke-width="0.22">Mel.+Luz.</text>
<text x="266.90" y="406.03" font-size="10.7" font-weight="bold" text-anchor="middle" fill="#231f20"  stroke="#231f20" stroke-width="0.11">Treatment</text>
<text x="0" y="0" font-size="10.3" font-weight="bold" text-anchor="middle" fill="#231f20" transform="translate(179.30 289.50) rotate(-90)">Running wheel Activity (% of baseline)</text>
<line x1="381.50" y1="214.80" x2="645.20" y2="214.80" stroke="#2b2b2b" stroke-width="1.25" />
<line x1="381.50" y1="212.90" x2="381.50" y2="216.70" stroke="#2b2b2b" stroke-width="1.25" />
<line x1="562.60" y1="212.90" x2="562.60" y2="216.70" stroke="#2b2b2b" stroke-width="1.25" />
<line x1="645.20" y1="212.90" x2="645.20" y2="216.70" stroke="#2b2b2b" stroke-width="1.25" />
<text x="477.30" y="210.79" font-size="10.6" font-weight="normal" text-anchor="middle" fill="#231f20"  stroke="#231f20" stroke-width="0.22">18</text>
<text x="605.60" y="210.79" font-size="10.6" font-weight="normal" text-anchor="middle" fill="#231f20"  stroke="#231f20" stroke-width="0.22">6</text>
<text x="647.90" y="215.39" font-size="10.6" font-weight="normal" text-anchor="start" fill="#231f20"  stroke="#231f20" stroke-width="0.22">(hours)</text>
<rect x="381.00" y="218.70" width="181.60" height="8.90" fill="#eef03c" />
<rect x="562.60" y="218.70" width="12.30" height="8.90" fill="#212021" />
<rect x="574.90" y="218.70" width="13.40" height="8.90" fill="#eef03c" />
<rect x="588.30" y="218.70" width="57.70" height="8.90" fill="#212021" />
<text x="582.30" y="225.69" font-size="7.8" font-weight="normal" text-anchor="middle" fill="#231f20"  stroke="#231f20" stroke-width="0.22">LP</text>
<line x1="562.60" y1="231.80" x2="645.20" y2="231.80" stroke="#2b2b2b" stroke-width="1.25" />
<line x1="562.60" y1="229.90" x2="562.60" y2="233.70" stroke="#2b2b2b" stroke-width="1.25" />
<line x1="574.90" y1="229.90" x2="574.90" y2="233.70" stroke="#2b2b2b" stroke-width="1.25" />
<line x1="588.30" y1="229.90" x2="588.30" y2="233.70" stroke="#2b2b2b" stroke-width="1.25" />
<line x1="645.20" y1="229.90" x2="645.20" y2="233.70" stroke="#2b2b2b" stroke-width="1.25" />
<text x="647.90" y="233.39" font-size="10.6" font-weight="normal" text-anchor="start" fill="#231f20"  stroke="#231f20" stroke-width="0.22">(hours)</text>
<line x1="568.60" y1="236.60" x2="568.60" y2="243.00" stroke="#333" stroke-width="1.0" />
<text x="581.70" y="243.36" font-size="10.5" font-weight="normal" text-anchor="middle" fill="#231f20"  stroke="#231f20" stroke-width="0.22">1</text>
<text x="614.50" y="243.36" font-size="10.5" font-weight="normal" text-anchor="middle" fill="#231f20"  stroke="#231f20" stroke-width="0.22">4</text>
<text x="545.60" y="254.63" font-size="10.7" font-weight="normal" text-anchor="start" fill="#231f20"  stroke="#231f20" stroke-width="0.22">Veh./ Mel.</text>
<line x1="438.70" y1="337.40" x2="438.70" y2="328.00" stroke="#231f20" stroke-width="1.6" />
<line x1="430.45" y1="328.00" x2="446.95" y2="328.00" stroke="#231f20" stroke-width="1.6" />
<rect x="422.60" y="337.40" width="32.20" height="37.30" fill="#d6d6d6" stroke="#231f20" stroke-width="1.6"/>
<line x1="481.60" y1="366.70" x2="481.60" y2="362.70" stroke="#231f20" stroke-width="1.6" />
<line x1="473.35" y1="362.70" x2="489.85" y2="362.70" stroke="#231f20" stroke-width="1.6" />
<rect x="465.80" y="366.70" width="31.60" height="8.00" fill="#8c8c8c" stroke="#231f20" stroke-width="1.6"/>
<polyline points="439.1,324.1 439.1,296.9 480.9,296.9 480.9,360.5" fill="none" stroke="#231f20" stroke-width="1.6"/>
<text x="458.50" y="295.64" font-size="8.5" font-weight="normal" text-anchor="middle" fill="#231f20"  stroke="#231f20" stroke-width="0.22">*</text>
<line x1="412.20" y1="284.30" x2="412.20" y2="374.70" stroke="#231f20" stroke-width="1.6" />
<line x1="409.80" y1="374.70" x2="506.50" y2="374.70" stroke="#231f20" stroke-width="1.6" />
<line x1="409.90" y1="374.70" x2="412.20" y2="374.70" stroke="#231f20" stroke-width="1.1" />
<text x="408.60" y="378.71" font-size="9.8" font-weight="normal" text-anchor="end" fill="#333"  stroke="#333" stroke-width="0.22">0</text>
<line x1="409.90" y1="352.10" x2="412.20" y2="352.10" stroke="#231f20" stroke-width="1.1" />
<text x="408.60" y="356.11" font-size="9.8" font-weight="normal" text-anchor="end" fill="#333"  stroke="#333" stroke-width="0.22">20</text>
<line x1="409.90" y1="329.50" x2="412.20" y2="329.50" stroke="#231f20" stroke-width="1.1" />
<text x="408.60" y="333.51" font-size="9.8" font-weight="normal" text-anchor="end" fill="#333"  stroke="#333" stroke-width="0.22">40</text>
<line x1="409.90" y1="306.90" x2="412.20" y2="306.90" stroke="#231f20" stroke-width="1.1" />
<text x="408.60" y="310.91" font-size="9.8" font-weight="normal" text-anchor="end" fill="#333"  stroke="#333" stroke-width="0.22">60</text>
<line x1="409.90" y1="284.30" x2="412.20" y2="284.30" stroke="#231f20" stroke-width="1.1" />
<text x="408.60" y="288.31" font-size="9.8" font-weight="normal" text-anchor="end" fill="#333"  stroke="#333" stroke-width="0.22">80</text>
<line x1="438.70" y1="374.70" x2="438.70" y2="378.10" stroke="#231f20" stroke-width="1.3" />
<line x1="481.60" y1="374.70" x2="481.60" y2="378.10" stroke="#231f20" stroke-width="1.3" />
<text x="456.30" y="281.22" font-size="10.1" font-weight="bold" text-anchor="middle" fill="#231f20"  stroke="#231f20" stroke-width="0.11">Camera-based</text>
<text x="438.40" y="386.44" font-size="9.9" font-weight="normal" text-anchor="middle" fill="#333"  stroke="#333" stroke-width="0.22">Veh.</text>
<text x="482.00" y="386.44" font-size="9.9" font-weight="normal" text-anchor="middle" fill="#333"  stroke="#333" stroke-width="0.22">Mel.</text>
<text x="455.20" y="399.20" font-size="9.5" font-weight="bold" text-anchor="middle" fill="#231f20"  stroke="#231f20" stroke-width="0.11">Treatment</text>
<text x="0" y="0" font-size="8.8" font-weight="bold" text-anchor="middle" fill="#231f20" transform="translate(389.80 328.80) rotate(-90)">Sleep latency (min)</text>
<line x1="585.40" y1="354.60" x2="585.40" y2="347.90" stroke="#231f20" stroke-width="1.6" />
<line x1="577.15" y1="347.90" x2="593.65" y2="347.90" stroke="#231f20" stroke-width="1.6" />
<rect x="569.40" y="354.60" width="32.00" height="20.20" fill="#d6d6d6" stroke="#231f20" stroke-width="1.6"/>
<line x1="627.40" y1="331.50" x2="627.40" y2="324.30" stroke="#231f20" stroke-width="1.6" />
<line x1="619.15" y1="324.30" x2="635.65" y2="324.30" stroke="#231f20" stroke-width="1.6" />
<rect x="611.40" y="331.50" width="32.00" height="43.30" fill="#8c8c8c" stroke="#231f20" stroke-width="1.6"/>
<polyline points="585.5,344.5 585.5,289.9 627.6,289.9 627.6,322.0" fill="none" stroke="#231f20" stroke-width="1.6"/>
<text x="606.70" y="289.04" font-size="8.5" font-weight="normal" text-anchor="middle" fill="#231f20"  stroke="#231f20" stroke-width="0.22">*</text>
<line x1="559.40" y1="286.40" x2="559.40" y2="374.80" stroke="#231f20" stroke-width="1.6" />
<line x1="557.00" y1="374.80" x2="652.80" y2="374.80" stroke="#231f20" stroke-width="1.6" />
<line x1="557.10" y1="374.80" x2="559.40" y2="374.80" stroke="#231f20" stroke-width="1.1" />
<text x="555.80" y="378.81" font-size="9.8" font-weight="normal" text-anchor="end" fill="#333"  stroke="#333" stroke-width="0.22">0</text>
<line x1="557.10" y1="357.12" x2="559.40" y2="357.12" stroke="#231f20" stroke-width="1.1" />
<text x="555.80" y="361.13" font-size="9.8" font-weight="normal" text-anchor="end" fill="#333"  stroke="#333" stroke-width="0.22">10</text>
<line x1="557.10" y1="339.44" x2="559.40" y2="339.44" stroke="#231f20" stroke-width="1.1" />
<text x="555.80" y="343.45" font-size="9.8" font-weight="normal" text-anchor="end" fill="#333"  stroke="#333" stroke-width="0.22">20</text>
<line x1="557.10" y1="321.76" x2="559.40" y2="321.76" stroke="#231f20" stroke-width="1.1" />
<text x="555.80" y="325.77" font-size="9.8" font-weight="normal" text-anchor="end" fill="#333"  stroke="#333" stroke-width="0.22">30</text>
<line x1="557.10" y1="304.08" x2="559.40" y2="304.08" stroke="#231f20" stroke-width="1.1" />
<text x="555.80" y="308.09" font-size="9.8" font-weight="normal" text-anchor="end" fill="#333"  stroke="#333" stroke-width="0.22">40</text>
<line x1="557.10" y1="286.40" x2="559.40" y2="286.40" stroke="#231f20" stroke-width="1.1" />
<text x="555.80" y="290.41" font-size="9.8" font-weight="normal" text-anchor="end" fill="#333"  stroke="#333" stroke-width="0.22">50</text>
<line x1="585.40" y1="374.80" x2="585.40" y2="378.20" stroke="#231f20" stroke-width="1.3" />
<line x1="627.40" y1="374.80" x2="627.40" y2="378.20" stroke="#231f20" stroke-width="1.3" />
<text x="601.10" y="281.22" font-size="10.1" font-weight="bold" text-anchor="middle" fill="#231f20"  stroke="#231f20" stroke-width="0.11">Camera-based</text>
<text x="586.40" y="386.44" font-size="9.9" font-weight="normal" text-anchor="middle" fill="#333"  stroke="#333" stroke-width="0.22">Veh.</text>
<text x="627.90" y="386.44" font-size="9.9" font-weight="normal" text-anchor="middle" fill="#333"  stroke="#333" stroke-width="0.22">Mel.</text>
<text x="604.20" y="399.20" font-size="9.5" font-weight="bold" text-anchor="middle" fill="#231f20"  stroke="#231f20" stroke-width="0.11">Treatment</text>
<text x="0" y="0" font-size="8.8" font-weight="bold" text-anchor="middle" fill="#231f20" transform="translate(536.60 328.60) rotate(-90)">Sleep duration (min)</text>
</svg></body></html>
